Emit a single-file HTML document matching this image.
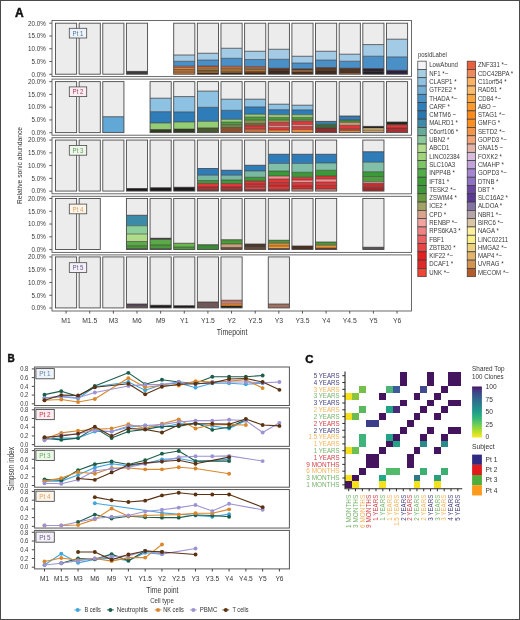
<!DOCTYPE html>
<html><head><meta charset="utf-8"><style>
html,body{margin:0;padding:0;background:#fff;overflow:hidden;width:520px;height:620px;}
svg{display:block;will-change:transform;}
text{font-family:"Liberation Sans", sans-serif;}
</style></head><body>
<svg width="520" height="620" viewBox="0 0 520 620">
<rect x="0" y="0" width="520" height="620" fill="#fff"/>
<rect x="0.50" y="0.50" width="519.00" height="619.00" fill="none" stroke="#4a4a4a" stroke-width="1" />
<text x="15.10" y="16.60" font-size="12.0" fill="#111" text-anchor="start" font-weight="bold" stroke="#111" stroke-width="0.45">A</text>
<text transform="translate(22.3,165.5) rotate(-90)" font-size="7.8" fill="#333" text-anchor="middle" textLength="77" lengthAdjust="spacingAndGlyphs">Relative sonic abundance</text>
<line x1="49.30" y1="23.20" x2="52.00" y2="23.20" stroke="#444" stroke-width="0.9"/>
<text x="45.90" y="25.50" font-size="6.6" fill="#3a3a3a" text-anchor="end" font-weight="normal" textLength="17.78" lengthAdjust="spacingAndGlyphs" >20.0%</text>
<line x1="49.30" y1="35.98" x2="52.00" y2="35.98" stroke="#444" stroke-width="0.9"/>
<text x="45.90" y="38.27" font-size="6.6" fill="#3a3a3a" text-anchor="end" font-weight="normal" textLength="17.78" lengthAdjust="spacingAndGlyphs" >15.0%</text>
<line x1="49.30" y1="48.75" x2="52.00" y2="48.75" stroke="#444" stroke-width="0.9"/>
<text x="45.90" y="51.05" font-size="6.6" fill="#3a3a3a" text-anchor="end" font-weight="normal" textLength="17.78" lengthAdjust="spacingAndGlyphs" >10.0%</text>
<line x1="49.30" y1="61.53" x2="52.00" y2="61.53" stroke="#444" stroke-width="0.9"/>
<text x="45.90" y="63.83" font-size="6.6" fill="#3a3a3a" text-anchor="end" font-weight="normal" textLength="14.29" lengthAdjust="spacingAndGlyphs" >5.0%</text>
<line x1="49.30" y1="74.30" x2="52.00" y2="74.30" stroke="#444" stroke-width="0.9"/>
<text x="45.90" y="76.60" font-size="6.6" fill="#3a3a3a" text-anchor="end" font-weight="normal" textLength="14.29" lengthAdjust="spacingAndGlyphs" >0.0%</text>
<rect x="52.00" y="20.50" width="359.50" height="56.10" fill="#fff" stroke="#5a5a5a" stroke-width="0.9" />
<rect x="55.50" y="23.20" width="21.15" height="51.00" fill="#ececec" stroke="none" stroke-width="1" />
<rect x="55.50" y="23.20" width="21.15" height="51.00" fill="none" stroke="#4a4a4a" stroke-width="0.9" />
<rect x="79.14" y="23.20" width="21.15" height="51.00" fill="#ececec" stroke="none" stroke-width="1" />
<rect x="79.14" y="23.20" width="21.15" height="51.00" fill="none" stroke="#4a4a4a" stroke-width="0.9" />
<rect x="102.78" y="23.20" width="21.15" height="51.00" fill="#ececec" stroke="none" stroke-width="1" />
<rect x="102.78" y="23.20" width="21.15" height="51.00" fill="none" stroke="#4a4a4a" stroke-width="0.9" />
<rect x="126.42" y="23.20" width="21.15" height="51.00" fill="#ececec" stroke="none" stroke-width="1" />
<rect x="126.42" y="71.40" width="21.15" height="2.80" fill="#3c3c3c" stroke="none" stroke-width="1" />
<line x1="126.42" y1="71.40" x2="147.57" y2="71.40" stroke="#3a3030" stroke-width="0.7"/>
<rect x="126.42" y="23.20" width="21.15" height="51.00" fill="none" stroke="#4a4a4a" stroke-width="0.9" />
<rect x="173.70" y="23.20" width="21.15" height="51.00" fill="#ececec" stroke="none" stroke-width="1" />
<rect x="173.70" y="55.00" width="21.15" height="6.25" fill="#a3cbe5" stroke="none" stroke-width="1" />
<line x1="173.70" y1="55.00" x2="194.85" y2="55.00" stroke="#3a3030" stroke-width="0.7"/>
<rect x="173.70" y="61.25" width="21.15" height="4.95" fill="#4a8fc6" stroke="none" stroke-width="1" />
<line x1="173.70" y1="61.25" x2="194.85" y2="61.25" stroke="#3a3030" stroke-width="0.55"/>
<rect x="173.70" y="66.20" width="21.15" height="1.40" fill="#e4603a" stroke="none" stroke-width="1" />
<line x1="173.70" y1="66.20" x2="194.85" y2="66.20" stroke="#3a3030" stroke-width="0.55"/>
<rect x="173.70" y="67.60" width="21.15" height="1.90" fill="#e8862a" stroke="none" stroke-width="1" />
<line x1="173.70" y1="67.60" x2="194.85" y2="67.60" stroke="#3a3030" stroke-width="0.55"/>
<rect x="173.70" y="69.50" width="21.15" height="0.60" fill="#f4a848" stroke="none" stroke-width="1" />
<line x1="173.70" y1="69.50" x2="194.85" y2="69.50" stroke="#3a3030" stroke-width="0.55"/>
<rect x="173.70" y="70.10" width="21.15" height="1.60" fill="#e8862a" stroke="none" stroke-width="1" />
<line x1="173.70" y1="70.10" x2="194.85" y2="70.10" stroke="#3a3030" stroke-width="0.55"/>
<rect x="173.70" y="71.70" width="21.15" height="0.60" fill="#f4a848" stroke="none" stroke-width="1" />
<line x1="173.70" y1="71.70" x2="194.85" y2="71.70" stroke="#3a3030" stroke-width="0.55"/>
<rect x="173.70" y="72.30" width="21.15" height="1.90" fill="#d07a30" stroke="none" stroke-width="1" />
<line x1="173.70" y1="72.30" x2="194.85" y2="72.30" stroke="#3a3030" stroke-width="0.55"/>
<rect x="173.70" y="23.20" width="21.15" height="51.00" fill="none" stroke="#4a4a4a" stroke-width="0.9" />
<rect x="197.34" y="23.20" width="21.15" height="51.00" fill="#ececec" stroke="none" stroke-width="1" />
<rect x="197.34" y="53.25" width="21.15" height="6.75" fill="#a3cbe5" stroke="none" stroke-width="1" />
<line x1="197.34" y1="53.25" x2="218.49" y2="53.25" stroke="#3a3030" stroke-width="0.7"/>
<rect x="197.34" y="60.00" width="21.15" height="6.00" fill="#4a8fc6" stroke="none" stroke-width="1" />
<line x1="197.34" y1="60.00" x2="218.49" y2="60.00" stroke="#3a3030" stroke-width="0.55"/>
<rect x="197.34" y="66.00" width="21.15" height="1.10" fill="#e4603a" stroke="none" stroke-width="1" />
<line x1="197.34" y1="66.00" x2="218.49" y2="66.00" stroke="#3a3030" stroke-width="0.55"/>
<rect x="197.34" y="67.10" width="21.15" height="1.40" fill="#e8862a" stroke="none" stroke-width="1" />
<line x1="197.34" y1="67.10" x2="218.49" y2="67.10" stroke="#3a3030" stroke-width="0.55"/>
<rect x="197.34" y="68.50" width="21.15" height="1.30" fill="#f4a848" stroke="none" stroke-width="1" />
<line x1="197.34" y1="68.50" x2="218.49" y2="68.50" stroke="#3a3030" stroke-width="0.55"/>
<rect x="197.34" y="69.80" width="21.15" height="1.90" fill="#7a5414" stroke="none" stroke-width="1" />
<line x1="197.34" y1="69.80" x2="218.49" y2="69.80" stroke="#3a3030" stroke-width="0.55"/>
<rect x="197.34" y="71.70" width="21.15" height="1.30" fill="#c08030" stroke="none" stroke-width="1" />
<line x1="197.34" y1="71.70" x2="218.49" y2="71.70" stroke="#3a3030" stroke-width="0.55"/>
<rect x="197.34" y="73.00" width="21.15" height="1.20" fill="#3a1a10" stroke="none" stroke-width="1" />
<line x1="197.34" y1="73.00" x2="218.49" y2="73.00" stroke="#3a3030" stroke-width="0.55"/>
<rect x="197.34" y="23.20" width="21.15" height="51.00" fill="none" stroke="#4a4a4a" stroke-width="0.9" />
<rect x="220.98" y="23.20" width="21.15" height="51.00" fill="#ececec" stroke="none" stroke-width="1" />
<rect x="220.98" y="48.25" width="21.15" height="10.00" fill="#a3cbe5" stroke="none" stroke-width="1" />
<line x1="220.98" y1="48.25" x2="242.13" y2="48.25" stroke="#3a3030" stroke-width="0.7"/>
<rect x="220.98" y="58.25" width="21.15" height="8.05" fill="#4a8fc6" stroke="none" stroke-width="1" />
<line x1="220.98" y1="58.25" x2="242.13" y2="58.25" stroke="#3a3030" stroke-width="0.55"/>
<rect x="220.98" y="66.30" width="21.15" height="2.00" fill="#c87040" stroke="none" stroke-width="1" />
<line x1="220.98" y1="66.30" x2="242.13" y2="66.30" stroke="#3a3030" stroke-width="0.55"/>
<rect x="220.98" y="68.30" width="21.15" height="0.70" fill="#f4a848" stroke="none" stroke-width="1" />
<line x1="220.98" y1="68.30" x2="242.13" y2="68.30" stroke="#3a3030" stroke-width="0.55"/>
<rect x="220.98" y="69.00" width="21.15" height="2.00" fill="#d08030" stroke="none" stroke-width="1" />
<line x1="220.98" y1="69.00" x2="242.13" y2="69.00" stroke="#3a3030" stroke-width="0.55"/>
<rect x="220.98" y="71.00" width="21.15" height="1.80" fill="#a07030" stroke="none" stroke-width="1" />
<line x1="220.98" y1="71.00" x2="242.13" y2="71.00" stroke="#3a3030" stroke-width="0.55"/>
<rect x="220.98" y="72.80" width="21.15" height="1.40" fill="#2a1a10" stroke="none" stroke-width="1" />
<line x1="220.98" y1="72.80" x2="242.13" y2="72.80" stroke="#3a3030" stroke-width="0.55"/>
<rect x="220.98" y="23.20" width="21.15" height="51.00" fill="none" stroke="#4a4a4a" stroke-width="0.9" />
<rect x="244.62" y="23.20" width="21.15" height="51.00" fill="#ececec" stroke="none" stroke-width="1" />
<rect x="244.62" y="51.25" width="21.15" height="8.25" fill="#a3cbe5" stroke="none" stroke-width="1" />
<line x1="244.62" y1="51.25" x2="265.77" y2="51.25" stroke="#3a3030" stroke-width="0.7"/>
<rect x="244.62" y="59.50" width="21.15" height="7.10" fill="#4a8fc6" stroke="none" stroke-width="1" />
<line x1="244.62" y1="59.50" x2="265.77" y2="59.50" stroke="#3a3030" stroke-width="0.55"/>
<rect x="244.62" y="66.60" width="21.15" height="2.20" fill="#a86040" stroke="none" stroke-width="1" />
<line x1="244.62" y1="66.60" x2="265.77" y2="66.60" stroke="#3a3030" stroke-width="0.55"/>
<rect x="244.62" y="68.80" width="21.15" height="0.70" fill="#f4a848" stroke="none" stroke-width="1" />
<line x1="244.62" y1="68.80" x2="265.77" y2="68.80" stroke="#3a3030" stroke-width="0.55"/>
<rect x="244.62" y="69.50" width="21.15" height="2.00" fill="#b87424" stroke="none" stroke-width="1" />
<line x1="244.62" y1="69.50" x2="265.77" y2="69.50" stroke="#3a3030" stroke-width="0.55"/>
<rect x="244.62" y="71.50" width="21.15" height="1.50" fill="#804010" stroke="none" stroke-width="1" />
<line x1="244.62" y1="71.50" x2="265.77" y2="71.50" stroke="#3a3030" stroke-width="0.55"/>
<rect x="244.62" y="73.00" width="21.15" height="1.20" fill="#2a1a10" stroke="none" stroke-width="1" />
<line x1="244.62" y1="73.00" x2="265.77" y2="73.00" stroke="#3a3030" stroke-width="0.55"/>
<rect x="244.62" y="23.20" width="21.15" height="51.00" fill="none" stroke="#4a4a4a" stroke-width="0.9" />
<rect x="268.26" y="23.20" width="21.15" height="51.00" fill="#ececec" stroke="none" stroke-width="1" />
<rect x="268.26" y="49.25" width="21.15" height="10.00" fill="#a3cbe5" stroke="none" stroke-width="1" />
<line x1="268.26" y1="49.25" x2="289.41" y2="49.25" stroke="#3a3030" stroke-width="0.7"/>
<rect x="268.26" y="59.25" width="21.15" height="9.00" fill="#4a8fc6" stroke="none" stroke-width="1" />
<line x1="268.26" y1="59.25" x2="289.41" y2="59.25" stroke="#3a3030" stroke-width="0.55"/>
<rect x="268.26" y="68.25" width="21.15" height="2.65" fill="#5a3020" stroke="none" stroke-width="1" />
<line x1="268.26" y1="68.25" x2="289.41" y2="68.25" stroke="#3a3030" stroke-width="0.55"/>
<rect x="268.26" y="70.90" width="21.15" height="3.30" fill="#3a2a20" stroke="none" stroke-width="1" />
<line x1="268.26" y1="70.90" x2="289.41" y2="70.90" stroke="#3a3030" stroke-width="0.55"/>
<rect x="268.26" y="23.20" width="21.15" height="51.00" fill="none" stroke="#4a4a4a" stroke-width="0.9" />
<rect x="291.90" y="23.20" width="21.15" height="51.00" fill="#ececec" stroke="none" stroke-width="1" />
<rect x="291.90" y="56.25" width="21.15" height="6.75" fill="#a3cbe5" stroke="none" stroke-width="1" />
<line x1="291.90" y1="56.25" x2="313.05" y2="56.25" stroke="#3a3030" stroke-width="0.7"/>
<rect x="291.90" y="63.00" width="21.15" height="5.75" fill="#4a8fc6" stroke="none" stroke-width="1" />
<line x1="291.90" y1="63.00" x2="313.05" y2="63.00" stroke="#3a3030" stroke-width="0.55"/>
<rect x="291.90" y="68.75" width="21.15" height="1.65" fill="#5a3a20" stroke="none" stroke-width="1" />
<line x1="291.90" y1="68.75" x2="313.05" y2="68.75" stroke="#3a3030" stroke-width="0.55"/>
<rect x="291.90" y="70.40" width="21.15" height="1.30" fill="#e8862a" stroke="none" stroke-width="1" />
<line x1="291.90" y1="70.40" x2="313.05" y2="70.40" stroke="#3a3030" stroke-width="0.55"/>
<rect x="291.90" y="71.70" width="21.15" height="2.50" fill="#4a2e1c" stroke="none" stroke-width="1" />
<line x1="291.90" y1="71.70" x2="313.05" y2="71.70" stroke="#3a3030" stroke-width="0.55"/>
<rect x="291.90" y="23.20" width="21.15" height="51.00" fill="none" stroke="#4a4a4a" stroke-width="0.9" />
<rect x="315.54" y="23.20" width="21.15" height="51.00" fill="#ececec" stroke="none" stroke-width="1" />
<rect x="315.54" y="51.25" width="21.15" height="8.75" fill="#a3cbe5" stroke="none" stroke-width="1" />
<line x1="315.54" y1="51.25" x2="336.69" y2="51.25" stroke="#3a3030" stroke-width="0.7"/>
<rect x="315.54" y="60.00" width="21.15" height="7.50" fill="#4a8fc6" stroke="none" stroke-width="1" />
<line x1="315.54" y1="60.00" x2="336.69" y2="60.00" stroke="#3a3030" stroke-width="0.55"/>
<rect x="315.54" y="67.50" width="21.15" height="3.40" fill="#5a3a22" stroke="none" stroke-width="1" />
<line x1="315.54" y1="67.50" x2="336.69" y2="67.50" stroke="#3a3030" stroke-width="0.55"/>
<rect x="315.54" y="70.90" width="21.15" height="3.30" fill="#3e2a1e" stroke="none" stroke-width="1" />
<line x1="315.54" y1="70.90" x2="336.69" y2="70.90" stroke="#3a3030" stroke-width="0.55"/>
<rect x="315.54" y="23.20" width="21.15" height="51.00" fill="none" stroke="#4a4a4a" stroke-width="0.9" />
<rect x="339.18" y="23.20" width="21.15" height="51.00" fill="#ececec" stroke="none" stroke-width="1" />
<rect x="339.18" y="54.20" width="21.15" height="7.00" fill="#a3cbe5" stroke="none" stroke-width="1" />
<line x1="339.18" y1="54.20" x2="360.33" y2="54.20" stroke="#3a3030" stroke-width="0.7"/>
<rect x="339.18" y="61.20" width="21.15" height="7.00" fill="#4a8fc6" stroke="none" stroke-width="1" />
<line x1="339.18" y1="61.20" x2="360.33" y2="61.20" stroke="#3a3030" stroke-width="0.55"/>
<rect x="339.18" y="68.20" width="21.15" height="5.00" fill="#4e3424" stroke="none" stroke-width="1" />
<line x1="339.18" y1="68.20" x2="360.33" y2="68.20" stroke="#3a3030" stroke-width="0.55"/>
<rect x="339.18" y="73.20" width="21.15" height="1.00" fill="#b86a2a" stroke="none" stroke-width="1" />
<line x1="339.18" y1="73.20" x2="360.33" y2="73.20" stroke="#3a3030" stroke-width="0.55"/>
<rect x="339.18" y="23.20" width="21.15" height="51.00" fill="none" stroke="#4a4a4a" stroke-width="0.9" />
<rect x="362.82" y="23.20" width="21.15" height="51.00" fill="#ececec" stroke="none" stroke-width="1" />
<rect x="362.82" y="44.60" width="21.15" height="11.60" fill="#a3cbe5" stroke="none" stroke-width="1" />
<line x1="362.82" y1="44.60" x2="383.97" y2="44.60" stroke="#3a3030" stroke-width="0.7"/>
<rect x="362.82" y="56.20" width="21.15" height="12.30" fill="#4a8fc6" stroke="none" stroke-width="1" />
<line x1="362.82" y1="56.20" x2="383.97" y2="56.20" stroke="#3a3030" stroke-width="0.55"/>
<rect x="362.82" y="68.50" width="21.15" height="3.40" fill="#2a2430" stroke="none" stroke-width="1" />
<line x1="362.82" y1="68.50" x2="383.97" y2="68.50" stroke="#3a3030" stroke-width="0.55"/>
<rect x="362.82" y="71.90" width="21.15" height="2.30" fill="#1e1a24" stroke="none" stroke-width="1" />
<line x1="362.82" y1="71.90" x2="383.97" y2="71.90" stroke="#3a3030" stroke-width="0.55"/>
<rect x="362.82" y="23.20" width="21.15" height="51.00" fill="none" stroke="#4a4a4a" stroke-width="0.9" />
<rect x="386.46" y="23.20" width="21.15" height="51.00" fill="#ececec" stroke="none" stroke-width="1" />
<rect x="386.46" y="39.20" width="21.15" height="17.70" fill="#a3cbe5" stroke="none" stroke-width="1" />
<line x1="386.46" y1="39.20" x2="407.61" y2="39.20" stroke="#3a3030" stroke-width="0.7"/>
<rect x="386.46" y="56.90" width="21.15" height="13.40" fill="#4a8fc6" stroke="none" stroke-width="1" />
<line x1="386.46" y1="56.90" x2="407.61" y2="56.90" stroke="#3a3030" stroke-width="0.55"/>
<rect x="386.46" y="70.30" width="21.15" height="3.90" fill="#2a2040" stroke="none" stroke-width="1" />
<line x1="386.46" y1="70.30" x2="407.61" y2="70.30" stroke="#3a3030" stroke-width="0.55"/>
<rect x="386.46" y="23.20" width="21.15" height="51.00" fill="none" stroke="#4a4a4a" stroke-width="0.9" />
<rect x="69.30" y="28.30" width="17.40" height="9.70" fill="#eef3f9" stroke="#4a4a4a" stroke-width="0.8" />
<text x="78.00" y="35.70" font-size="6.9" fill="#4f73a0" text-anchor="middle" font-weight="normal" textLength="10.8" lengthAdjust="spacingAndGlyphs" >Pt 1</text>
<line x1="49.30" y1="81.63" x2="52.00" y2="81.63" stroke="#444" stroke-width="0.9"/>
<text x="45.90" y="83.93" font-size="6.6" fill="#3a3a3a" text-anchor="end" font-weight="normal" textLength="17.78" lengthAdjust="spacingAndGlyphs" >20.0%</text>
<line x1="49.30" y1="94.41" x2="52.00" y2="94.41" stroke="#444" stroke-width="0.9"/>
<text x="45.90" y="96.70" font-size="6.6" fill="#3a3a3a" text-anchor="end" font-weight="normal" textLength="17.78" lengthAdjust="spacingAndGlyphs" >15.0%</text>
<line x1="49.30" y1="107.18" x2="52.00" y2="107.18" stroke="#444" stroke-width="0.9"/>
<text x="45.90" y="109.48" font-size="6.6" fill="#3a3a3a" text-anchor="end" font-weight="normal" textLength="17.78" lengthAdjust="spacingAndGlyphs" >10.0%</text>
<line x1="49.30" y1="119.95" x2="52.00" y2="119.95" stroke="#444" stroke-width="0.9"/>
<text x="45.90" y="122.25" font-size="6.6" fill="#3a3a3a" text-anchor="end" font-weight="normal" textLength="14.29" lengthAdjust="spacingAndGlyphs" >5.0%</text>
<line x1="49.30" y1="132.73" x2="52.00" y2="132.73" stroke="#444" stroke-width="0.9"/>
<text x="45.90" y="135.03" font-size="6.6" fill="#3a3a3a" text-anchor="end" font-weight="normal" textLength="14.29" lengthAdjust="spacingAndGlyphs" >0.0%</text>
<rect x="52.00" y="79.10" width="359.50" height="56.10" fill="#fff" stroke="#5a5a5a" stroke-width="0.9" />
<rect x="55.50" y="81.63" width="21.15" height="51.00" fill="#ececec" stroke="none" stroke-width="1" />
<rect x="55.50" y="81.63" width="21.15" height="51.00" fill="none" stroke="#4a4a4a" stroke-width="0.9" />
<rect x="79.14" y="81.63" width="21.15" height="51.00" fill="#ececec" stroke="none" stroke-width="1" />
<rect x="79.14" y="81.63" width="21.15" height="51.00" fill="none" stroke="#4a4a4a" stroke-width="0.9" />
<rect x="102.78" y="81.63" width="21.15" height="51.00" fill="#ececec" stroke="none" stroke-width="1" />
<rect x="102.78" y="116.75" width="21.15" height="15.88" fill="#62a8d6" stroke="none" stroke-width="1" />
<line x1="102.78" y1="116.75" x2="123.93" y2="116.75" stroke="#3a3030" stroke-width="0.7"/>
<rect x="102.78" y="81.63" width="21.15" height="51.00" fill="none" stroke="#4a4a4a" stroke-width="0.9" />
<rect x="150.06" y="81.63" width="21.15" height="51.00" fill="#ececec" stroke="none" stroke-width="1" />
<rect x="150.06" y="98.20" width="21.15" height="13.50" fill="#8ec2e2" stroke="none" stroke-width="1" />
<line x1="150.06" y1="98.20" x2="171.21" y2="98.20" stroke="#3a3030" stroke-width="0.7"/>
<rect x="150.06" y="111.70" width="21.15" height="11.30" fill="#2f7db8" stroke="none" stroke-width="1" />
<line x1="150.06" y1="111.70" x2="171.21" y2="111.70" stroke="#3a3030" stroke-width="0.55"/>
<rect x="150.06" y="123.00" width="21.15" height="6.50" fill="#94cd74" stroke="none" stroke-width="1" />
<line x1="150.06" y1="123.00" x2="171.21" y2="123.00" stroke="#3a3030" stroke-width="0.55"/>
<rect x="150.06" y="129.50" width="21.15" height="3.13" fill="#2e3a22" stroke="none" stroke-width="1" />
<line x1="150.06" y1="129.50" x2="171.21" y2="129.50" stroke="#3a3030" stroke-width="0.55"/>
<rect x="150.06" y="81.63" width="21.15" height="51.00" fill="none" stroke="#4a4a4a" stroke-width="0.9" />
<rect x="173.70" y="81.63" width="21.15" height="51.00" fill="#ececec" stroke="none" stroke-width="1" />
<rect x="173.70" y="96.60" width="21.15" height="15.30" fill="#8ec2e2" stroke="none" stroke-width="1" />
<line x1="173.70" y1="96.60" x2="194.85" y2="96.60" stroke="#3a3030" stroke-width="0.7"/>
<rect x="173.70" y="111.90" width="21.15" height="10.10" fill="#2f7db8" stroke="none" stroke-width="1" />
<line x1="173.70" y1="111.90" x2="194.85" y2="111.90" stroke="#3a3030" stroke-width="0.55"/>
<rect x="173.70" y="122.00" width="21.15" height="7.00" fill="#94cd74" stroke="none" stroke-width="1" />
<line x1="173.70" y1="122.00" x2="194.85" y2="122.00" stroke="#3a3030" stroke-width="0.55"/>
<rect x="173.70" y="129.00" width="21.15" height="3.63" fill="#2e3a22" stroke="none" stroke-width="1" />
<line x1="173.70" y1="129.00" x2="194.85" y2="129.00" stroke="#3a3030" stroke-width="0.55"/>
<rect x="173.70" y="81.63" width="21.15" height="51.00" fill="none" stroke="#4a4a4a" stroke-width="0.9" />
<rect x="197.34" y="81.63" width="21.15" height="51.00" fill="#ececec" stroke="none" stroke-width="1" />
<rect x="197.34" y="91.10" width="21.15" height="16.20" fill="#8ec2e2" stroke="none" stroke-width="1" />
<line x1="197.34" y1="91.10" x2="218.49" y2="91.10" stroke="#3a3030" stroke-width="0.7"/>
<rect x="197.34" y="107.30" width="21.15" height="14.10" fill="#2f7db8" stroke="none" stroke-width="1" />
<line x1="197.34" y1="107.30" x2="218.49" y2="107.30" stroke="#3a3030" stroke-width="0.55"/>
<rect x="197.34" y="121.40" width="21.15" height="6.50" fill="#94cd74" stroke="none" stroke-width="1" />
<line x1="197.34" y1="121.40" x2="218.49" y2="121.40" stroke="#3a3030" stroke-width="0.55"/>
<rect x="197.34" y="127.90" width="21.15" height="4.73" fill="#4a5a30" stroke="none" stroke-width="1" />
<line x1="197.34" y1="127.90" x2="218.49" y2="127.90" stroke="#3a3030" stroke-width="0.55"/>
<rect x="197.34" y="81.63" width="21.15" height="51.00" fill="none" stroke="#4a4a4a" stroke-width="0.9" />
<rect x="220.98" y="81.63" width="21.15" height="51.00" fill="#ececec" stroke="none" stroke-width="1" />
<rect x="220.98" y="99.20" width="21.15" height="11.10" fill="#8ec2e2" stroke="none" stroke-width="1" />
<line x1="220.98" y1="99.20" x2="242.13" y2="99.20" stroke="#3a3030" stroke-width="0.7"/>
<rect x="220.98" y="110.30" width="21.15" height="9.10" fill="#2f7db8" stroke="none" stroke-width="1" />
<line x1="220.98" y1="110.30" x2="242.13" y2="110.30" stroke="#3a3030" stroke-width="0.55"/>
<rect x="220.98" y="119.40" width="21.15" height="2.70" fill="#94cd74" stroke="none" stroke-width="1" />
<line x1="220.98" y1="119.40" x2="242.13" y2="119.40" stroke="#3a3030" stroke-width="0.55"/>
<rect x="220.98" y="122.10" width="21.15" height="2.50" fill="#4a9e40" stroke="none" stroke-width="1" />
<line x1="220.98" y1="122.10" x2="242.13" y2="122.10" stroke="#3a3030" stroke-width="0.55"/>
<rect x="220.98" y="124.60" width="21.15" height="2.90" fill="#6a8a40" stroke="none" stroke-width="1" />
<line x1="220.98" y1="124.60" x2="242.13" y2="124.60" stroke="#3a3030" stroke-width="0.55"/>
<rect x="220.98" y="127.50" width="21.15" height="5.13" fill="#8a5030" stroke="none" stroke-width="1" />
<line x1="220.98" y1="127.50" x2="242.13" y2="127.50" stroke="#3a3030" stroke-width="0.55"/>
<rect x="220.98" y="81.63" width="21.15" height="51.00" fill="none" stroke="#4a4a4a" stroke-width="0.9" />
<rect x="244.62" y="81.63" width="21.15" height="51.00" fill="#ececec" stroke="none" stroke-width="1" />
<rect x="244.62" y="99.20" width="21.15" height="7.70" fill="#8ec2e2" stroke="none" stroke-width="1" />
<line x1="244.62" y1="99.20" x2="265.77" y2="99.20" stroke="#3a3030" stroke-width="0.7"/>
<rect x="244.62" y="106.90" width="21.15" height="7.40" fill="#2f7db8" stroke="none" stroke-width="1" />
<line x1="244.62" y1="106.90" x2="265.77" y2="106.90" stroke="#3a3030" stroke-width="0.55"/>
<rect x="244.62" y="114.30" width="21.15" height="2.80" fill="#94cd74" stroke="none" stroke-width="1" />
<line x1="244.62" y1="114.30" x2="265.77" y2="114.30" stroke="#3a3030" stroke-width="0.55"/>
<rect x="244.62" y="117.10" width="21.15" height="3.00" fill="#4a9e40" stroke="none" stroke-width="1" />
<line x1="244.62" y1="117.10" x2="265.77" y2="117.10" stroke="#3a3030" stroke-width="0.55"/>
<rect x="244.62" y="120.10" width="21.15" height="3.30" fill="#7a9a50" stroke="none" stroke-width="1" />
<line x1="244.62" y1="120.10" x2="265.77" y2="120.10" stroke="#3a3030" stroke-width="0.55"/>
<rect x="244.62" y="123.40" width="21.15" height="2.70" fill="#8a5a3a" stroke="none" stroke-width="1" />
<line x1="244.62" y1="123.40" x2="265.77" y2="123.40" stroke="#3a3030" stroke-width="0.55"/>
<rect x="244.62" y="126.10" width="21.15" height="3.00" fill="#e0383a" stroke="none" stroke-width="1" />
<line x1="244.62" y1="126.10" x2="265.77" y2="126.10" stroke="#3a3030" stroke-width="0.55"/>
<rect x="244.62" y="129.10" width="21.15" height="3.53" fill="#c07040" stroke="none" stroke-width="1" />
<line x1="244.62" y1="129.10" x2="265.77" y2="129.10" stroke="#3a3030" stroke-width="0.55"/>
<rect x="244.62" y="81.63" width="21.15" height="51.00" fill="none" stroke="#4a4a4a" stroke-width="0.9" />
<rect x="268.26" y="81.63" width="21.15" height="51.00" fill="#ececec" stroke="none" stroke-width="1" />
<rect x="268.26" y="104.20" width="21.15" height="5.50" fill="#8ec2e2" stroke="none" stroke-width="1" />
<line x1="268.26" y1="104.20" x2="289.41" y2="104.20" stroke="#3a3030" stroke-width="0.7"/>
<rect x="268.26" y="109.70" width="21.15" height="5.00" fill="#2f7db8" stroke="none" stroke-width="1" />
<line x1="268.26" y1="109.70" x2="289.41" y2="109.70" stroke="#3a3030" stroke-width="0.55"/>
<rect x="268.26" y="114.70" width="21.15" height="2.90" fill="#94cd74" stroke="none" stroke-width="1" />
<line x1="268.26" y1="114.70" x2="289.41" y2="114.70" stroke="#3a3030" stroke-width="0.55"/>
<rect x="268.26" y="117.60" width="21.15" height="2.50" fill="#4a9e40" stroke="none" stroke-width="1" />
<line x1="268.26" y1="117.60" x2="289.41" y2="117.60" stroke="#3a3030" stroke-width="0.55"/>
<rect x="268.26" y="120.10" width="21.15" height="2.30" fill="#9a9a50" stroke="none" stroke-width="1" />
<line x1="268.26" y1="120.10" x2="289.41" y2="120.10" stroke="#3a3030" stroke-width="0.55"/>
<rect x="268.26" y="122.40" width="21.15" height="3.20" fill="#e0383a" stroke="none" stroke-width="1" />
<line x1="268.26" y1="122.40" x2="289.41" y2="122.40" stroke="#3a3030" stroke-width="0.55"/>
<rect x="268.26" y="125.60" width="21.15" height="2.00" fill="#f09090" stroke="none" stroke-width="1" />
<line x1="268.26" y1="125.60" x2="289.41" y2="125.60" stroke="#3a3030" stroke-width="0.55"/>
<rect x="268.26" y="127.60" width="21.15" height="2.50" fill="#e0383a" stroke="none" stroke-width="1" />
<line x1="268.26" y1="127.60" x2="289.41" y2="127.60" stroke="#3a3030" stroke-width="0.55"/>
<rect x="268.26" y="130.10" width="21.15" height="2.53" fill="#e89040" stroke="none" stroke-width="1" />
<line x1="268.26" y1="130.10" x2="289.41" y2="130.10" stroke="#3a3030" stroke-width="0.55"/>
<rect x="268.26" y="81.63" width="21.15" height="51.00" fill="none" stroke="#4a4a4a" stroke-width="0.9" />
<rect x="291.90" y="81.63" width="21.15" height="51.00" fill="#ececec" stroke="none" stroke-width="1" />
<rect x="291.90" y="105.20" width="21.15" height="4.70" fill="#8ec2e2" stroke="none" stroke-width="1" />
<line x1="291.90" y1="105.20" x2="313.05" y2="105.20" stroke="#3a3030" stroke-width="0.7"/>
<rect x="291.90" y="109.90" width="21.15" height="4.80" fill="#2f7db8" stroke="none" stroke-width="1" />
<line x1="291.90" y1="109.90" x2="313.05" y2="109.90" stroke="#3a3030" stroke-width="0.55"/>
<rect x="291.90" y="114.70" width="21.15" height="2.90" fill="#94cd74" stroke="none" stroke-width="1" />
<line x1="291.90" y1="114.70" x2="313.05" y2="114.70" stroke="#3a3030" stroke-width="0.55"/>
<rect x="291.90" y="117.60" width="21.15" height="2.50" fill="#4a9e40" stroke="none" stroke-width="1" />
<line x1="291.90" y1="117.60" x2="313.05" y2="117.60" stroke="#3a3030" stroke-width="0.55"/>
<rect x="291.90" y="120.10" width="21.15" height="1.30" fill="#9a9a50" stroke="none" stroke-width="1" />
<line x1="291.90" y1="120.10" x2="313.05" y2="120.10" stroke="#3a3030" stroke-width="0.55"/>
<rect x="291.90" y="121.40" width="21.15" height="3.20" fill="#e0383a" stroke="none" stroke-width="1" />
<line x1="291.90" y1="121.40" x2="313.05" y2="121.40" stroke="#3a3030" stroke-width="0.55"/>
<rect x="291.90" y="124.60" width="21.15" height="2.00" fill="#f09090" stroke="none" stroke-width="1" />
<line x1="291.90" y1="124.60" x2="313.05" y2="124.60" stroke="#3a3030" stroke-width="0.55"/>
<rect x="291.90" y="126.60" width="21.15" height="3.00" fill="#e0383a" stroke="none" stroke-width="1" />
<line x1="291.90" y1="126.60" x2="313.05" y2="126.60" stroke="#3a3030" stroke-width="0.55"/>
<rect x="291.90" y="129.60" width="21.15" height="3.03" fill="#e89040" stroke="none" stroke-width="1" />
<line x1="291.90" y1="129.60" x2="313.05" y2="129.60" stroke="#3a3030" stroke-width="0.55"/>
<rect x="291.90" y="81.63" width="21.15" height="51.00" fill="none" stroke="#4a4a4a" stroke-width="0.9" />
<rect x="315.54" y="81.63" width="21.15" height="51.00" fill="#ececec" stroke="none" stroke-width="1" />
<rect x="315.54" y="121.40" width="21.15" height="3.00" fill="#3a80a8" stroke="none" stroke-width="1" />
<line x1="315.54" y1="121.40" x2="336.69" y2="121.40" stroke="#3a3030" stroke-width="0.7"/>
<rect x="315.54" y="124.40" width="21.15" height="3.50" fill="#3a6a3a" stroke="none" stroke-width="1" />
<line x1="315.54" y1="124.40" x2="336.69" y2="124.40" stroke="#3a3030" stroke-width="0.55"/>
<rect x="315.54" y="127.90" width="21.15" height="4.73" fill="#8b3030" stroke="none" stroke-width="1" />
<line x1="315.54" y1="127.90" x2="336.69" y2="127.90" stroke="#3a3030" stroke-width="0.55"/>
<rect x="315.54" y="81.63" width="21.15" height="51.00" fill="none" stroke="#4a4a4a" stroke-width="0.9" />
<rect x="339.18" y="81.63" width="21.15" height="51.00" fill="#ececec" stroke="none" stroke-width="1" />
<rect x="339.18" y="116.00" width="21.15" height="4.00" fill="#3a7ab0" stroke="none" stroke-width="1" />
<line x1="339.18" y1="116.00" x2="360.33" y2="116.00" stroke="#3a3030" stroke-width="0.7"/>
<rect x="339.18" y="120.00" width="21.15" height="2.40" fill="#4a8a40" stroke="none" stroke-width="1" />
<line x1="339.18" y1="120.00" x2="360.33" y2="120.00" stroke="#3a3030" stroke-width="0.55"/>
<rect x="339.18" y="122.40" width="21.15" height="3.00" fill="#c89a70" stroke="none" stroke-width="1" />
<line x1="339.18" y1="122.40" x2="360.33" y2="122.40" stroke="#3a3030" stroke-width="0.55"/>
<rect x="339.18" y="125.40" width="21.15" height="3.20" fill="#e0383a" stroke="none" stroke-width="1" />
<line x1="339.18" y1="125.40" x2="360.33" y2="125.40" stroke="#3a3030" stroke-width="0.55"/>
<rect x="339.18" y="128.60" width="21.15" height="2.00" fill="#c04030" stroke="none" stroke-width="1" />
<line x1="339.18" y1="128.60" x2="360.33" y2="128.60" stroke="#3a3030" stroke-width="0.55"/>
<rect x="339.18" y="130.60" width="21.15" height="2.03" fill="#e89040" stroke="none" stroke-width="1" />
<line x1="339.18" y1="130.60" x2="360.33" y2="130.60" stroke="#3a3030" stroke-width="0.55"/>
<rect x="339.18" y="81.63" width="21.15" height="51.00" fill="none" stroke="#4a4a4a" stroke-width="0.9" />
<rect x="362.82" y="81.63" width="21.15" height="51.00" fill="#ececec" stroke="none" stroke-width="1" />
<rect x="362.82" y="126.40" width="21.15" height="1.60" fill="#1e1e1e" stroke="none" stroke-width="1" />
<line x1="362.82" y1="126.40" x2="383.97" y2="126.40" stroke="#3a3030" stroke-width="0.7"/>
<rect x="362.82" y="128.00" width="21.15" height="2.10" fill="#d8c080" stroke="none" stroke-width="1" />
<line x1="362.82" y1="128.00" x2="383.97" y2="128.00" stroke="#3a3030" stroke-width="0.55"/>
<rect x="362.82" y="130.10" width="21.15" height="2.53" fill="#c8a070" stroke="none" stroke-width="1" />
<line x1="362.82" y1="130.10" x2="383.97" y2="130.10" stroke="#3a3030" stroke-width="0.55"/>
<rect x="362.82" y="81.63" width="21.15" height="51.00" fill="none" stroke="#4a4a4a" stroke-width="0.9" />
<rect x="386.46" y="81.63" width="21.15" height="51.00" fill="#ececec" stroke="none" stroke-width="1" />
<rect x="386.46" y="122.00" width="21.15" height="2.80" fill="#1e2a1e" stroke="none" stroke-width="1" />
<line x1="386.46" y1="122.00" x2="407.61" y2="122.00" stroke="#3a3030" stroke-width="0.7"/>
<rect x="386.46" y="124.80" width="21.15" height="3.20" fill="#e0383a" stroke="none" stroke-width="1" />
<line x1="386.46" y1="124.80" x2="407.61" y2="124.80" stroke="#3a3030" stroke-width="0.55"/>
<rect x="386.46" y="128.00" width="21.15" height="4.63" fill="#a83030" stroke="none" stroke-width="1" />
<line x1="386.46" y1="128.00" x2="407.61" y2="128.00" stroke="#3a3030" stroke-width="0.55"/>
<rect x="386.46" y="81.63" width="21.15" height="51.00" fill="none" stroke="#4a4a4a" stroke-width="0.9" />
<rect x="69.30" y="86.90" width="17.40" height="9.70" fill="#fcedf2" stroke="#4a4a4a" stroke-width="0.8" />
<text x="78.00" y="94.30" font-size="6.9" fill="#a83a60" text-anchor="middle" font-weight="normal" textLength="10.8" lengthAdjust="spacingAndGlyphs" >Pt 2</text>
<line x1="49.30" y1="140.06" x2="52.00" y2="140.06" stroke="#444" stroke-width="0.9"/>
<text x="45.90" y="142.36" font-size="6.6" fill="#3a3a3a" text-anchor="end" font-weight="normal" textLength="17.78" lengthAdjust="spacingAndGlyphs" >20.0%</text>
<line x1="49.30" y1="152.84" x2="52.00" y2="152.84" stroke="#444" stroke-width="0.9"/>
<text x="45.90" y="155.14" font-size="6.6" fill="#3a3a3a" text-anchor="end" font-weight="normal" textLength="17.78" lengthAdjust="spacingAndGlyphs" >15.0%</text>
<line x1="49.30" y1="165.61" x2="52.00" y2="165.61" stroke="#444" stroke-width="0.9"/>
<text x="45.90" y="167.91" font-size="6.6" fill="#3a3a3a" text-anchor="end" font-weight="normal" textLength="17.78" lengthAdjust="spacingAndGlyphs" >10.0%</text>
<line x1="49.30" y1="178.38" x2="52.00" y2="178.38" stroke="#444" stroke-width="0.9"/>
<text x="45.90" y="180.69" font-size="6.6" fill="#3a3a3a" text-anchor="end" font-weight="normal" textLength="14.29" lengthAdjust="spacingAndGlyphs" >5.0%</text>
<line x1="49.30" y1="191.16" x2="52.00" y2="191.16" stroke="#444" stroke-width="0.9"/>
<text x="45.90" y="193.46" font-size="6.6" fill="#3a3a3a" text-anchor="end" font-weight="normal" textLength="14.29" lengthAdjust="spacingAndGlyphs" >0.0%</text>
<rect x="52.00" y="137.70" width="359.50" height="56.10" fill="#fff" stroke="#5a5a5a" stroke-width="0.9" />
<rect x="55.50" y="140.06" width="21.15" height="51.00" fill="#ececec" stroke="none" stroke-width="1" />
<rect x="55.50" y="140.06" width="21.15" height="51.00" fill="none" stroke="#4a4a4a" stroke-width="0.9" />
<rect x="79.14" y="140.06" width="21.15" height="51.00" fill="#ececec" stroke="none" stroke-width="1" />
<rect x="79.14" y="140.06" width="21.15" height="51.00" fill="none" stroke="#4a4a4a" stroke-width="0.9" />
<rect x="102.78" y="140.06" width="21.15" height="51.00" fill="#ececec" stroke="none" stroke-width="1" />
<rect x="102.78" y="140.06" width="21.15" height="51.00" fill="none" stroke="#4a4a4a" stroke-width="0.9" />
<rect x="126.42" y="140.06" width="21.15" height="51.00" fill="#ececec" stroke="none" stroke-width="1" />
<rect x="126.42" y="188.50" width="21.15" height="2.56" fill="#1a1a1a" stroke="none" stroke-width="1" />
<line x1="126.42" y1="188.50" x2="147.57" y2="188.50" stroke="#3a3030" stroke-width="0.7"/>
<rect x="126.42" y="140.06" width="21.15" height="51.00" fill="none" stroke="#4a4a4a" stroke-width="0.9" />
<rect x="150.06" y="140.06" width="21.15" height="51.00" fill="#ececec" stroke="none" stroke-width="1" />
<rect x="150.06" y="187.75" width="21.15" height="3.31" fill="#1a1a1a" stroke="none" stroke-width="1" />
<line x1="150.06" y1="187.75" x2="171.21" y2="187.75" stroke="#3a3030" stroke-width="0.7"/>
<rect x="150.06" y="140.06" width="21.15" height="51.00" fill="none" stroke="#4a4a4a" stroke-width="0.9" />
<rect x="173.70" y="140.06" width="21.15" height="51.00" fill="#ececec" stroke="none" stroke-width="1" />
<rect x="173.70" y="187.25" width="21.15" height="3.81" fill="#1a1a1a" stroke="none" stroke-width="1" />
<line x1="173.70" y1="187.25" x2="194.85" y2="187.25" stroke="#3a3030" stroke-width="0.7"/>
<rect x="173.70" y="140.06" width="21.15" height="51.00" fill="none" stroke="#4a4a4a" stroke-width="0.9" />
<rect x="197.34" y="140.06" width="21.15" height="51.00" fill="#ececec" stroke="none" stroke-width="1" />
<rect x="197.34" y="168.50" width="21.15" height="6.75" fill="#2f7db8" stroke="none" stroke-width="1" />
<line x1="197.34" y1="168.50" x2="218.49" y2="168.50" stroke="#3a3030" stroke-width="0.7"/>
<rect x="197.34" y="175.25" width="21.15" height="5.25" fill="#7ab8a0" stroke="none" stroke-width="1" />
<line x1="197.34" y1="175.25" x2="218.49" y2="175.25" stroke="#3a3030" stroke-width="0.55"/>
<rect x="197.34" y="180.50" width="21.15" height="3.00" fill="#3a9a3a" stroke="none" stroke-width="1" />
<line x1="197.34" y1="180.50" x2="218.49" y2="180.50" stroke="#3a3030" stroke-width="0.55"/>
<rect x="197.34" y="183.50" width="21.15" height="3.50" fill="#e0383a" stroke="none" stroke-width="1" />
<line x1="197.34" y1="183.50" x2="218.49" y2="183.50" stroke="#3a3030" stroke-width="0.55"/>
<rect x="197.34" y="187.00" width="21.15" height="2.50" fill="#b83030" stroke="none" stroke-width="1" />
<line x1="197.34" y1="187.00" x2="218.49" y2="187.00" stroke="#3a3030" stroke-width="0.55"/>
<rect x="197.34" y="189.50" width="21.15" height="1.56" fill="#7a3a30" stroke="none" stroke-width="1" />
<line x1="197.34" y1="189.50" x2="218.49" y2="189.50" stroke="#3a3030" stroke-width="0.55"/>
<rect x="197.34" y="140.06" width="21.15" height="51.00" fill="none" stroke="#4a4a4a" stroke-width="0.9" />
<rect x="220.98" y="140.06" width="21.15" height="51.00" fill="#ececec" stroke="none" stroke-width="1" />
<rect x="220.98" y="170.25" width="21.15" height="5.00" fill="#2f7db8" stroke="none" stroke-width="1" />
<line x1="220.98" y1="170.25" x2="242.13" y2="170.25" stroke="#3a3030" stroke-width="0.7"/>
<rect x="220.98" y="175.25" width="21.15" height="4.75" fill="#7ab8a0" stroke="none" stroke-width="1" />
<line x1="220.98" y1="175.25" x2="242.13" y2="175.25" stroke="#3a3030" stroke-width="0.55"/>
<rect x="220.98" y="180.00" width="21.15" height="3.50" fill="#3a9a3a" stroke="none" stroke-width="1" />
<line x1="220.98" y1="180.00" x2="242.13" y2="180.00" stroke="#3a3030" stroke-width="0.55"/>
<rect x="220.98" y="183.50" width="21.15" height="3.50" fill="#e0383a" stroke="none" stroke-width="1" />
<line x1="220.98" y1="183.50" x2="242.13" y2="183.50" stroke="#3a3030" stroke-width="0.55"/>
<rect x="220.98" y="187.00" width="21.15" height="2.50" fill="#b83030" stroke="none" stroke-width="1" />
<line x1="220.98" y1="187.00" x2="242.13" y2="187.00" stroke="#3a3030" stroke-width="0.55"/>
<rect x="220.98" y="189.50" width="21.15" height="1.56" fill="#7a3a30" stroke="none" stroke-width="1" />
<line x1="220.98" y1="189.50" x2="242.13" y2="189.50" stroke="#3a3030" stroke-width="0.55"/>
<rect x="220.98" y="140.06" width="21.15" height="51.00" fill="none" stroke="#4a4a4a" stroke-width="0.9" />
<rect x="244.62" y="140.06" width="21.15" height="51.00" fill="#ececec" stroke="none" stroke-width="1" />
<rect x="244.62" y="165.25" width="21.15" height="5.75" fill="#2f7db8" stroke="none" stroke-width="1" />
<line x1="244.62" y1="165.25" x2="265.77" y2="165.25" stroke="#3a3030" stroke-width="0.7"/>
<rect x="244.62" y="171.00" width="21.15" height="6.25" fill="#7ab8a0" stroke="none" stroke-width="1" />
<line x1="244.62" y1="171.00" x2="265.77" y2="171.00" stroke="#3a3030" stroke-width="0.55"/>
<rect x="244.62" y="177.25" width="21.15" height="3.75" fill="#3a9a3a" stroke="none" stroke-width="1" />
<line x1="244.62" y1="177.25" x2="265.77" y2="177.25" stroke="#3a3030" stroke-width="0.55"/>
<rect x="244.62" y="181.00" width="21.15" height="3.00" fill="#e0383a" stroke="none" stroke-width="1" />
<line x1="244.62" y1="181.00" x2="265.77" y2="181.00" stroke="#3a3030" stroke-width="0.55"/>
<rect x="244.62" y="184.00" width="21.15" height="3.00" fill="#c83a3a" stroke="none" stroke-width="1" />
<line x1="244.62" y1="184.00" x2="265.77" y2="184.00" stroke="#3a3030" stroke-width="0.55"/>
<rect x="244.62" y="187.00" width="21.15" height="2.50" fill="#e04848" stroke="none" stroke-width="1" />
<line x1="244.62" y1="187.00" x2="265.77" y2="187.00" stroke="#3a3030" stroke-width="0.55"/>
<rect x="244.62" y="189.50" width="21.15" height="1.56" fill="#8a3030" stroke="none" stroke-width="1" />
<line x1="244.62" y1="189.50" x2="265.77" y2="189.50" stroke="#3a3030" stroke-width="0.55"/>
<rect x="244.62" y="140.06" width="21.15" height="51.00" fill="none" stroke="#4a4a4a" stroke-width="0.9" />
<rect x="268.26" y="140.06" width="21.15" height="51.00" fill="#ececec" stroke="none" stroke-width="1" />
<rect x="268.26" y="154.25" width="21.15" height="9.25" fill="#2f7db8" stroke="none" stroke-width="1" />
<line x1="268.26" y1="154.25" x2="289.41" y2="154.25" stroke="#3a3030" stroke-width="0.7"/>
<rect x="268.26" y="163.50" width="21.15" height="7.50" fill="#80c0a8" stroke="none" stroke-width="1" />
<line x1="268.26" y1="163.50" x2="289.41" y2="163.50" stroke="#3a3030" stroke-width="0.55"/>
<rect x="268.26" y="171.00" width="21.15" height="5.00" fill="#3a9a3a" stroke="none" stroke-width="1" />
<line x1="268.26" y1="171.00" x2="289.41" y2="171.00" stroke="#3a3030" stroke-width="0.55"/>
<rect x="268.26" y="176.00" width="21.15" height="3.00" fill="#f09090" stroke="none" stroke-width="1" />
<line x1="268.26" y1="176.00" x2="289.41" y2="176.00" stroke="#3a3030" stroke-width="0.55"/>
<rect x="268.26" y="179.00" width="21.15" height="3.50" fill="#e0383a" stroke="none" stroke-width="1" />
<line x1="268.26" y1="179.00" x2="289.41" y2="179.00" stroke="#3a3030" stroke-width="0.55"/>
<rect x="268.26" y="182.50" width="21.15" height="3.50" fill="#d03030" stroke="none" stroke-width="1" />
<line x1="268.26" y1="182.50" x2="289.41" y2="182.50" stroke="#3a3030" stroke-width="0.55"/>
<rect x="268.26" y="186.00" width="21.15" height="3.50" fill="#e0383a" stroke="none" stroke-width="1" />
<line x1="268.26" y1="186.00" x2="289.41" y2="186.00" stroke="#3a3030" stroke-width="0.55"/>
<rect x="268.26" y="189.50" width="21.15" height="1.56" fill="#9a3a30" stroke="none" stroke-width="1" />
<line x1="268.26" y1="189.50" x2="289.41" y2="189.50" stroke="#3a3030" stroke-width="0.55"/>
<rect x="268.26" y="140.06" width="21.15" height="51.00" fill="none" stroke="#4a4a4a" stroke-width="0.9" />
<rect x="291.90" y="140.06" width="21.15" height="51.00" fill="#ececec" stroke="none" stroke-width="1" />
<rect x="291.90" y="154.25" width="21.15" height="9.25" fill="#2f7db8" stroke="none" stroke-width="1" />
<line x1="291.90" y1="154.25" x2="313.05" y2="154.25" stroke="#3a3030" stroke-width="0.7"/>
<rect x="291.90" y="163.50" width="21.15" height="8.75" fill="#80c0a8" stroke="none" stroke-width="1" />
<line x1="291.90" y1="163.50" x2="313.05" y2="163.50" stroke="#3a3030" stroke-width="0.55"/>
<rect x="291.90" y="172.25" width="21.15" height="5.00" fill="#3a9a3a" stroke="none" stroke-width="1" />
<line x1="291.90" y1="172.25" x2="313.05" y2="172.25" stroke="#3a3030" stroke-width="0.55"/>
<rect x="291.90" y="177.25" width="21.15" height="2.75" fill="#e0383a" stroke="none" stroke-width="1" />
<line x1="291.90" y1="177.25" x2="313.05" y2="177.25" stroke="#3a3030" stroke-width="0.55"/>
<rect x="291.90" y="180.00" width="21.15" height="2.50" fill="#f09090" stroke="none" stroke-width="1" />
<line x1="291.90" y1="180.00" x2="313.05" y2="180.00" stroke="#3a3030" stroke-width="0.55"/>
<rect x="291.90" y="182.50" width="21.15" height="3.50" fill="#e0383a" stroke="none" stroke-width="1" />
<line x1="291.90" y1="182.50" x2="313.05" y2="182.50" stroke="#3a3030" stroke-width="0.55"/>
<rect x="291.90" y="186.00" width="21.15" height="3.00" fill="#d03030" stroke="none" stroke-width="1" />
<line x1="291.90" y1="186.00" x2="313.05" y2="186.00" stroke="#3a3030" stroke-width="0.55"/>
<rect x="291.90" y="189.00" width="21.15" height="2.06" fill="#c89080" stroke="none" stroke-width="1" />
<line x1="291.90" y1="189.00" x2="313.05" y2="189.00" stroke="#3a3030" stroke-width="0.55"/>
<rect x="291.90" y="140.06" width="21.15" height="51.00" fill="none" stroke="#4a4a4a" stroke-width="0.9" />
<rect x="315.54" y="140.06" width="21.15" height="51.00" fill="#ececec" stroke="none" stroke-width="1" />
<rect x="315.54" y="154.25" width="21.15" height="8.75" fill="#2f7db8" stroke="none" stroke-width="1" />
<line x1="315.54" y1="154.25" x2="336.69" y2="154.25" stroke="#3a3030" stroke-width="0.7"/>
<rect x="315.54" y="163.00" width="21.15" height="7.25" fill="#80c0a8" stroke="none" stroke-width="1" />
<line x1="315.54" y1="163.00" x2="336.69" y2="163.00" stroke="#3a3030" stroke-width="0.55"/>
<rect x="315.54" y="170.25" width="21.15" height="5.75" fill="#3a9a3a" stroke="none" stroke-width="1" />
<line x1="315.54" y1="170.25" x2="336.69" y2="170.25" stroke="#3a3030" stroke-width="0.55"/>
<rect x="315.54" y="176.00" width="21.15" height="3.00" fill="#e0383a" stroke="none" stroke-width="1" />
<line x1="315.54" y1="176.00" x2="336.69" y2="176.00" stroke="#3a3030" stroke-width="0.55"/>
<rect x="315.54" y="179.00" width="21.15" height="3.00" fill="#f09090" stroke="none" stroke-width="1" />
<line x1="315.54" y1="179.00" x2="336.69" y2="179.00" stroke="#3a3030" stroke-width="0.55"/>
<rect x="315.54" y="182.00" width="21.15" height="3.50" fill="#e0383a" stroke="none" stroke-width="1" />
<line x1="315.54" y1="182.00" x2="336.69" y2="182.00" stroke="#3a3030" stroke-width="0.55"/>
<rect x="315.54" y="185.50" width="21.15" height="3.50" fill="#d03030" stroke="none" stroke-width="1" />
<line x1="315.54" y1="185.50" x2="336.69" y2="185.50" stroke="#3a3030" stroke-width="0.55"/>
<rect x="315.54" y="189.00" width="21.15" height="2.06" fill="#c89080" stroke="none" stroke-width="1" />
<line x1="315.54" y1="189.00" x2="336.69" y2="189.00" stroke="#3a3030" stroke-width="0.55"/>
<rect x="315.54" y="140.06" width="21.15" height="51.00" fill="none" stroke="#4a4a4a" stroke-width="0.9" />
<rect x="362.82" y="140.06" width="21.15" height="51.00" fill="#ececec" stroke="none" stroke-width="1" />
<rect x="362.82" y="151.75" width="21.15" height="10.50" fill="#2f7db8" stroke="none" stroke-width="1" />
<line x1="362.82" y1="151.75" x2="383.97" y2="151.75" stroke="#3a3030" stroke-width="0.7"/>
<rect x="362.82" y="162.25" width="21.15" height="9.50" fill="#80c0a8" stroke="none" stroke-width="1" />
<line x1="362.82" y1="162.25" x2="383.97" y2="162.25" stroke="#3a3030" stroke-width="0.55"/>
<rect x="362.82" y="171.75" width="21.15" height="4.75" fill="#3a9a3a" stroke="none" stroke-width="1" />
<line x1="362.82" y1="171.75" x2="383.97" y2="171.75" stroke="#3a3030" stroke-width="0.55"/>
<rect x="362.82" y="176.50" width="21.15" height="5.25" fill="#4aa040" stroke="none" stroke-width="1" />
<line x1="362.82" y1="176.50" x2="383.97" y2="176.50" stroke="#3a3030" stroke-width="0.55"/>
<rect x="362.82" y="181.75" width="21.15" height="1.75" fill="#f09090" stroke="none" stroke-width="1" />
<line x1="362.82" y1="181.75" x2="383.97" y2="181.75" stroke="#3a3030" stroke-width="0.55"/>
<rect x="362.82" y="183.50" width="21.15" height="4.00" fill="#c03030" stroke="none" stroke-width="1" />
<line x1="362.82" y1="183.50" x2="383.97" y2="183.50" stroke="#3a3030" stroke-width="0.55"/>
<rect x="362.82" y="187.50" width="21.15" height="3.56" fill="#a02a2a" stroke="none" stroke-width="1" />
<line x1="362.82" y1="187.50" x2="383.97" y2="187.50" stroke="#3a3030" stroke-width="0.55"/>
<rect x="362.82" y="140.06" width="21.15" height="51.00" fill="none" stroke="#4a4a4a" stroke-width="0.9" />
<rect x="69.30" y="145.50" width="17.40" height="9.70" fill="#edf7e9" stroke="#4a4a4a" stroke-width="0.8" />
<text x="78.00" y="152.90" font-size="6.9" fill="#66985e" text-anchor="middle" font-weight="normal" textLength="10.8" lengthAdjust="spacingAndGlyphs" >Pt 3</text>
<line x1="49.30" y1="198.49" x2="52.00" y2="198.49" stroke="#444" stroke-width="0.9"/>
<text x="45.90" y="200.79" font-size="6.6" fill="#3a3a3a" text-anchor="end" font-weight="normal" textLength="17.78" lengthAdjust="spacingAndGlyphs" >20.0%</text>
<line x1="49.30" y1="211.26" x2="52.00" y2="211.26" stroke="#444" stroke-width="0.9"/>
<text x="45.90" y="213.56" font-size="6.6" fill="#3a3a3a" text-anchor="end" font-weight="normal" textLength="17.78" lengthAdjust="spacingAndGlyphs" >15.0%</text>
<line x1="49.30" y1="224.04" x2="52.00" y2="224.04" stroke="#444" stroke-width="0.9"/>
<text x="45.90" y="226.34" font-size="6.6" fill="#3a3a3a" text-anchor="end" font-weight="normal" textLength="17.78" lengthAdjust="spacingAndGlyphs" >10.0%</text>
<line x1="49.30" y1="236.81" x2="52.00" y2="236.81" stroke="#444" stroke-width="0.9"/>
<text x="45.90" y="239.12" font-size="6.6" fill="#3a3a3a" text-anchor="end" font-weight="normal" textLength="14.29" lengthAdjust="spacingAndGlyphs" >5.0%</text>
<line x1="49.30" y1="249.59" x2="52.00" y2="249.59" stroke="#444" stroke-width="0.9"/>
<text x="45.90" y="251.89" font-size="6.6" fill="#3a3a3a" text-anchor="end" font-weight="normal" textLength="14.29" lengthAdjust="spacingAndGlyphs" >0.0%</text>
<rect x="52.00" y="196.30" width="359.50" height="56.10" fill="#fff" stroke="#5a5a5a" stroke-width="0.9" />
<rect x="55.50" y="198.49" width="21.15" height="51.00" fill="#ececec" stroke="none" stroke-width="1" />
<rect x="55.50" y="198.49" width="21.15" height="51.00" fill="none" stroke="#4a4a4a" stroke-width="0.9" />
<rect x="79.14" y="198.49" width="21.15" height="51.00" fill="#ececec" stroke="none" stroke-width="1" />
<rect x="79.14" y="198.49" width="21.15" height="51.00" fill="none" stroke="#4a4a4a" stroke-width="0.9" />
<rect x="126.42" y="198.49" width="21.15" height="51.00" fill="#ececec" stroke="none" stroke-width="1" />
<rect x="126.42" y="215.25" width="21.15" height="10.50" fill="#3a8aa8" stroke="none" stroke-width="1" />
<line x1="126.42" y1="215.25" x2="147.57" y2="215.25" stroke="#3a3030" stroke-width="0.7"/>
<rect x="126.42" y="225.75" width="21.15" height="8.25" fill="#8ccf9a" stroke="none" stroke-width="1" />
<line x1="126.42" y1="225.75" x2="147.57" y2="225.75" stroke="#3a3030" stroke-width="0.55"/>
<rect x="126.42" y="234.00" width="21.15" height="7.50" fill="#b0dc8a" stroke="none" stroke-width="1" />
<line x1="126.42" y1="234.00" x2="147.57" y2="234.00" stroke="#3a3030" stroke-width="0.55"/>
<rect x="126.42" y="241.50" width="21.15" height="4.25" fill="#5aaa4a" stroke="none" stroke-width="1" />
<line x1="126.42" y1="241.50" x2="147.57" y2="241.50" stroke="#3a3030" stroke-width="0.55"/>
<rect x="126.42" y="245.75" width="21.15" height="2.75" fill="#4a9a3a" stroke="none" stroke-width="1" />
<line x1="126.42" y1="245.75" x2="147.57" y2="245.75" stroke="#3a3030" stroke-width="0.55"/>
<rect x="126.42" y="248.50" width="21.15" height="0.99" fill="#3a8a3a" stroke="none" stroke-width="1" />
<line x1="126.42" y1="248.50" x2="147.57" y2="248.50" stroke="#3a3030" stroke-width="0.55"/>
<rect x="126.42" y="198.49" width="21.15" height="51.00" fill="none" stroke="#4a4a4a" stroke-width="0.9" />
<rect x="150.06" y="198.49" width="21.15" height="51.00" fill="#ececec" stroke="none" stroke-width="1" />
<rect x="150.06" y="238.25" width="21.15" height="1.25" fill="#1e1e1e" stroke="none" stroke-width="1" />
<line x1="150.06" y1="238.25" x2="171.21" y2="238.25" stroke="#3a3030" stroke-width="0.7"/>
<rect x="150.06" y="239.50" width="21.15" height="5.50" fill="#5aaa4a" stroke="none" stroke-width="1" />
<line x1="150.06" y1="239.50" x2="171.21" y2="239.50" stroke="#3a3030" stroke-width="0.55"/>
<rect x="150.06" y="245.00" width="21.15" height="3.50" fill="#4a9a3a" stroke="none" stroke-width="1" />
<line x1="150.06" y1="245.00" x2="171.21" y2="245.00" stroke="#3a3030" stroke-width="0.55"/>
<rect x="150.06" y="248.50" width="21.15" height="0.99" fill="#3a8a3a" stroke="none" stroke-width="1" />
<line x1="150.06" y1="248.50" x2="171.21" y2="248.50" stroke="#3a3030" stroke-width="0.55"/>
<rect x="150.06" y="198.49" width="21.15" height="51.00" fill="none" stroke="#4a4a4a" stroke-width="0.9" />
<rect x="173.70" y="198.49" width="21.15" height="51.00" fill="#ececec" stroke="none" stroke-width="1" />
<rect x="173.70" y="243.25" width="21.15" height="3.75" fill="#6ab850" stroke="none" stroke-width="1" />
<line x1="173.70" y1="243.25" x2="194.85" y2="243.25" stroke="#3a3030" stroke-width="0.7"/>
<rect x="173.70" y="247.00" width="21.15" height="2.49" fill="#4a9a3a" stroke="none" stroke-width="1" />
<line x1="173.70" y1="247.00" x2="194.85" y2="247.00" stroke="#3a3030" stroke-width="0.55"/>
<rect x="173.70" y="198.49" width="21.15" height="51.00" fill="none" stroke="#4a4a4a" stroke-width="0.9" />
<rect x="197.34" y="198.49" width="21.15" height="51.00" fill="#ececec" stroke="none" stroke-width="1" />
<rect x="197.34" y="244.75" width="21.15" height="4.74" fill="#3a8a3a" stroke="none" stroke-width="1" />
<line x1="197.34" y1="244.75" x2="218.49" y2="244.75" stroke="#3a3030" stroke-width="0.7"/>
<rect x="197.34" y="198.49" width="21.15" height="51.00" fill="none" stroke="#4a4a4a" stroke-width="0.9" />
<rect x="220.98" y="198.49" width="21.15" height="51.00" fill="#ececec" stroke="none" stroke-width="1" />
<rect x="220.98" y="239.75" width="21.15" height="4.25" fill="#4a9a3a" stroke="none" stroke-width="1" />
<line x1="220.98" y1="239.75" x2="242.13" y2="239.75" stroke="#3a3030" stroke-width="0.7"/>
<rect x="220.98" y="244.00" width="21.15" height="3.50" fill="#c8a080" stroke="none" stroke-width="1" />
<line x1="220.98" y1="244.00" x2="242.13" y2="244.00" stroke="#3a3030" stroke-width="0.55"/>
<rect x="220.98" y="247.50" width="21.15" height="1.99" fill="#6a4a30" stroke="none" stroke-width="1" />
<line x1="220.98" y1="247.50" x2="242.13" y2="247.50" stroke="#3a3030" stroke-width="0.55"/>
<rect x="220.98" y="198.49" width="21.15" height="51.00" fill="none" stroke="#4a4a4a" stroke-width="0.9" />
<rect x="244.62" y="198.49" width="21.15" height="51.00" fill="#ececec" stroke="none" stroke-width="1" />
<rect x="244.62" y="244.00" width="21.15" height="3.50" fill="#4a3a30" stroke="none" stroke-width="1" />
<line x1="244.62" y1="244.00" x2="265.77" y2="244.00" stroke="#3a3030" stroke-width="0.7"/>
<rect x="244.62" y="247.50" width="21.15" height="1.99" fill="#6a4a34" stroke="none" stroke-width="1" />
<line x1="244.62" y1="247.50" x2="265.77" y2="247.50" stroke="#3a3030" stroke-width="0.55"/>
<rect x="244.62" y="198.49" width="21.15" height="51.00" fill="none" stroke="#4a4a4a" stroke-width="0.9" />
<rect x="268.26" y="198.49" width="21.15" height="51.00" fill="#ececec" stroke="none" stroke-width="1" />
<rect x="268.26" y="240.25" width="21.15" height="3.00" fill="#4a9a3a" stroke="none" stroke-width="1" />
<line x1="268.26" y1="240.25" x2="289.41" y2="240.25" stroke="#3a3030" stroke-width="0.7"/>
<rect x="268.26" y="243.25" width="21.15" height="2.75" fill="#e08a30" stroke="none" stroke-width="1" />
<line x1="268.26" y1="243.25" x2="289.41" y2="243.25" stroke="#3a3030" stroke-width="0.55"/>
<rect x="268.26" y="246.00" width="21.15" height="2.50" fill="#f0a040" stroke="none" stroke-width="1" />
<line x1="268.26" y1="246.00" x2="289.41" y2="246.00" stroke="#3a3030" stroke-width="0.55"/>
<rect x="268.26" y="248.50" width="21.15" height="0.99" fill="#4a3a30" stroke="none" stroke-width="1" />
<line x1="268.26" y1="248.50" x2="289.41" y2="248.50" stroke="#3a3030" stroke-width="0.55"/>
<rect x="268.26" y="198.49" width="21.15" height="51.00" fill="none" stroke="#4a4a4a" stroke-width="0.9" />
<rect x="291.90" y="198.49" width="21.15" height="51.00" fill="#ececec" stroke="none" stroke-width="1" />
<rect x="291.90" y="246.00" width="21.15" height="3.49" fill="#4a3020" stroke="none" stroke-width="1" />
<line x1="291.90" y1="246.00" x2="313.05" y2="246.00" stroke="#3a3030" stroke-width="0.7"/>
<rect x="291.90" y="198.49" width="21.15" height="51.00" fill="none" stroke="#4a4a4a" stroke-width="0.9" />
<rect x="315.54" y="198.49" width="21.15" height="51.00" fill="#ececec" stroke="none" stroke-width="1" />
<rect x="315.54" y="242.00" width="21.15" height="3.25" fill="#4a9a3a" stroke="none" stroke-width="1" />
<line x1="315.54" y1="242.00" x2="336.69" y2="242.00" stroke="#3a3030" stroke-width="0.7"/>
<rect x="315.54" y="245.25" width="21.15" height="2.75" fill="#e8903a" stroke="none" stroke-width="1" />
<line x1="315.54" y1="245.25" x2="336.69" y2="245.25" stroke="#3a3030" stroke-width="0.55"/>
<rect x="315.54" y="248.00" width="21.15" height="1.49" fill="#6a4028" stroke="none" stroke-width="1" />
<line x1="315.54" y1="248.00" x2="336.69" y2="248.00" stroke="#3a3030" stroke-width="0.55"/>
<rect x="315.54" y="198.49" width="21.15" height="51.00" fill="none" stroke="#4a4a4a" stroke-width="0.9" />
<rect x="362.82" y="198.49" width="21.15" height="51.00" fill="#ececec" stroke="none" stroke-width="1" />
<rect x="362.82" y="247.25" width="21.15" height="2.24" fill="#555555" stroke="none" stroke-width="1" />
<line x1="362.82" y1="247.25" x2="383.97" y2="247.25" stroke="#3a3030" stroke-width="0.7"/>
<rect x="362.82" y="198.49" width="21.15" height="51.00" fill="none" stroke="#4a4a4a" stroke-width="0.9" />
<rect x="69.30" y="204.10" width="17.40" height="9.70" fill="#fdf4ea" stroke="#4a4a4a" stroke-width="0.8" />
<text x="78.00" y="211.50" font-size="6.9" fill="#e2a060" text-anchor="middle" font-weight="normal" textLength="10.8" lengthAdjust="spacingAndGlyphs" >Pt 4</text>
<line x1="49.30" y1="256.92" x2="52.00" y2="256.92" stroke="#444" stroke-width="0.9"/>
<text x="45.90" y="259.22" font-size="6.6" fill="#3a3a3a" text-anchor="end" font-weight="normal" textLength="17.78" lengthAdjust="spacingAndGlyphs" >20.0%</text>
<line x1="49.30" y1="269.69" x2="52.00" y2="269.69" stroke="#444" stroke-width="0.9"/>
<text x="45.90" y="272.00" font-size="6.6" fill="#3a3a3a" text-anchor="end" font-weight="normal" textLength="17.78" lengthAdjust="spacingAndGlyphs" >15.0%</text>
<line x1="49.30" y1="282.47" x2="52.00" y2="282.47" stroke="#444" stroke-width="0.9"/>
<text x="45.90" y="284.77" font-size="6.6" fill="#3a3a3a" text-anchor="end" font-weight="normal" textLength="17.78" lengthAdjust="spacingAndGlyphs" >10.0%</text>
<line x1="49.30" y1="295.25" x2="52.00" y2="295.25" stroke="#444" stroke-width="0.9"/>
<text x="45.90" y="297.55" font-size="6.6" fill="#3a3a3a" text-anchor="end" font-weight="normal" textLength="14.29" lengthAdjust="spacingAndGlyphs" >5.0%</text>
<line x1="49.30" y1="308.02" x2="52.00" y2="308.02" stroke="#444" stroke-width="0.9"/>
<text x="45.90" y="310.32" font-size="6.6" fill="#3a3a3a" text-anchor="end" font-weight="normal" textLength="14.29" lengthAdjust="spacingAndGlyphs" >0.0%</text>
<rect x="52.00" y="254.90" width="359.50" height="56.10" fill="#fff" stroke="#5a5a5a" stroke-width="0.9" />
<rect x="55.50" y="256.92" width="21.15" height="51.00" fill="#ececec" stroke="none" stroke-width="1" />
<rect x="55.50" y="256.92" width="21.15" height="51.00" fill="none" stroke="#4a4a4a" stroke-width="0.9" />
<rect x="79.14" y="256.92" width="21.15" height="51.00" fill="#ececec" stroke="none" stroke-width="1" />
<rect x="79.14" y="256.92" width="21.15" height="51.00" fill="none" stroke="#4a4a4a" stroke-width="0.9" />
<rect x="102.78" y="256.92" width="21.15" height="51.00" fill="#ececec" stroke="none" stroke-width="1" />
<rect x="102.78" y="256.92" width="21.15" height="51.00" fill="none" stroke="#4a4a4a" stroke-width="0.9" />
<rect x="126.42" y="256.92" width="21.15" height="51.00" fill="#ececec" stroke="none" stroke-width="1" />
<rect x="126.42" y="304.00" width="21.15" height="2.80" fill="#574858" stroke="none" stroke-width="1" />
<line x1="126.42" y1="304.00" x2="147.57" y2="304.00" stroke="#3a3030" stroke-width="0.7"/>
<rect x="126.42" y="306.80" width="21.15" height="1.12" fill="#7a6a60" stroke="none" stroke-width="1" />
<line x1="126.42" y1="306.80" x2="147.57" y2="306.80" stroke="#3a3030" stroke-width="0.55"/>
<rect x="126.42" y="256.92" width="21.15" height="51.00" fill="none" stroke="#4a4a4a" stroke-width="0.9" />
<rect x="150.06" y="256.92" width="21.15" height="51.00" fill="#ececec" stroke="none" stroke-width="1" />
<rect x="150.06" y="305.25" width="21.15" height="2.67" fill="#1a1a1a" stroke="none" stroke-width="1" />
<line x1="150.06" y1="305.25" x2="171.21" y2="305.25" stroke="#3a3030" stroke-width="0.7"/>
<rect x="150.06" y="256.92" width="21.15" height="51.00" fill="none" stroke="#4a4a4a" stroke-width="0.9" />
<rect x="173.70" y="256.92" width="21.15" height="51.00" fill="#ececec" stroke="none" stroke-width="1" />
<rect x="173.70" y="305.75" width="21.15" height="2.17" fill="#1a1a1a" stroke="none" stroke-width="1" />
<line x1="173.70" y1="305.75" x2="194.85" y2="305.75" stroke="#3a3030" stroke-width="0.7"/>
<rect x="173.70" y="256.92" width="21.15" height="51.00" fill="none" stroke="#4a4a4a" stroke-width="0.9" />
<rect x="197.34" y="256.92" width="21.15" height="51.00" fill="#ececec" stroke="none" stroke-width="1" />
<rect x="197.34" y="302.00" width="21.15" height="5.92" fill="#705858" stroke="none" stroke-width="1" />
<line x1="197.34" y1="302.00" x2="218.49" y2="302.00" stroke="#3a3030" stroke-width="0.7"/>
<rect x="197.34" y="256.92" width="21.15" height="51.00" fill="none" stroke="#4a4a4a" stroke-width="0.9" />
<rect x="220.98" y="256.92" width="21.15" height="51.00" fill="#ececec" stroke="none" stroke-width="1" />
<rect x="220.98" y="300.25" width="21.15" height="1.75" fill="#f08878" stroke="none" stroke-width="1" />
<line x1="220.98" y1="300.25" x2="242.13" y2="300.25" stroke="#3a3030" stroke-width="0.7"/>
<rect x="220.98" y="302.00" width="21.15" height="1.75" fill="#f4a090" stroke="none" stroke-width="1" />
<line x1="220.98" y1="302.00" x2="242.13" y2="302.00" stroke="#3a3030" stroke-width="0.55"/>
<rect x="220.98" y="303.75" width="21.15" height="2.25" fill="#e88a30" stroke="none" stroke-width="1" />
<line x1="220.98" y1="303.75" x2="242.13" y2="303.75" stroke="#3a3030" stroke-width="0.55"/>
<rect x="220.98" y="306.00" width="21.15" height="1.92" fill="#1e1e1e" stroke="none" stroke-width="1" />
<line x1="220.98" y1="306.00" x2="242.13" y2="306.00" stroke="#3a3030" stroke-width="0.55"/>
<rect x="220.98" y="256.92" width="21.15" height="51.00" fill="none" stroke="#4a4a4a" stroke-width="0.9" />
<rect x="268.26" y="256.92" width="21.15" height="51.00" fill="#ececec" stroke="none" stroke-width="1" />
<rect x="268.26" y="304.00" width="21.15" height="3.92" fill="#a07060" stroke="none" stroke-width="1" />
<line x1="268.26" y1="304.00" x2="289.41" y2="304.00" stroke="#3a3030" stroke-width="0.7"/>
<rect x="268.26" y="256.92" width="21.15" height="51.00" fill="none" stroke="#4a4a4a" stroke-width="0.9" />
<rect x="69.30" y="262.70" width="17.40" height="9.70" fill="#f3f0f7" stroke="#4a4a4a" stroke-width="0.8" />
<text x="78.00" y="270.10" font-size="6.9" fill="#6a5a8a" text-anchor="middle" font-weight="normal" textLength="10.8" lengthAdjust="spacingAndGlyphs" >Pt 5</text>
<line x1="66.08" y1="311.00" x2="66.08" y2="313.60" stroke="#444" stroke-width="0.9"/>
<text x="66.08" y="322.80" font-size="6.8" fill="#3a3a3a" text-anchor="middle" font-weight="normal" >M1</text>
<line x1="89.72" y1="311.00" x2="89.72" y2="313.60" stroke="#444" stroke-width="0.9"/>
<text x="89.72" y="322.80" font-size="6.8" fill="#3a3a3a" text-anchor="middle" font-weight="normal" >M1.5</text>
<line x1="113.36" y1="311.00" x2="113.36" y2="313.60" stroke="#444" stroke-width="0.9"/>
<text x="113.36" y="322.80" font-size="6.8" fill="#3a3a3a" text-anchor="middle" font-weight="normal" >M3</text>
<line x1="137.00" y1="311.00" x2="137.00" y2="313.60" stroke="#444" stroke-width="0.9"/>
<text x="137.00" y="322.80" font-size="6.8" fill="#3a3a3a" text-anchor="middle" font-weight="normal" >M6</text>
<line x1="160.63" y1="311.00" x2="160.63" y2="313.60" stroke="#444" stroke-width="0.9"/>
<text x="160.63" y="322.80" font-size="6.8" fill="#3a3a3a" text-anchor="middle" font-weight="normal" >M9</text>
<line x1="184.27" y1="311.00" x2="184.27" y2="313.60" stroke="#444" stroke-width="0.9"/>
<text x="184.27" y="322.80" font-size="6.8" fill="#3a3a3a" text-anchor="middle" font-weight="normal" >Y1</text>
<line x1="207.91" y1="311.00" x2="207.91" y2="313.60" stroke="#444" stroke-width="0.9"/>
<text x="207.91" y="322.80" font-size="6.8" fill="#3a3a3a" text-anchor="middle" font-weight="normal" >Y1.5</text>
<line x1="231.56" y1="311.00" x2="231.56" y2="313.60" stroke="#444" stroke-width="0.9"/>
<text x="231.56" y="322.80" font-size="6.8" fill="#3a3a3a" text-anchor="middle" font-weight="normal" >Y2</text>
<line x1="255.19" y1="311.00" x2="255.19" y2="313.60" stroke="#444" stroke-width="0.9"/>
<text x="255.19" y="322.80" font-size="6.8" fill="#3a3a3a" text-anchor="middle" font-weight="normal" >Y2.5</text>
<line x1="278.83" y1="311.00" x2="278.83" y2="313.60" stroke="#444" stroke-width="0.9"/>
<text x="278.83" y="322.80" font-size="6.8" fill="#3a3a3a" text-anchor="middle" font-weight="normal" >Y3</text>
<line x1="302.47" y1="311.00" x2="302.47" y2="313.60" stroke="#444" stroke-width="0.9"/>
<text x="302.47" y="322.80" font-size="6.8" fill="#3a3a3a" text-anchor="middle" font-weight="normal" >Y3.5</text>
<line x1="326.12" y1="311.00" x2="326.12" y2="313.60" stroke="#444" stroke-width="0.9"/>
<text x="326.12" y="322.80" font-size="6.8" fill="#3a3a3a" text-anchor="middle" font-weight="normal" >Y4</text>
<line x1="349.75" y1="311.00" x2="349.75" y2="313.60" stroke="#444" stroke-width="0.9"/>
<text x="349.75" y="322.80" font-size="6.8" fill="#3a3a3a" text-anchor="middle" font-weight="normal" >Y4.5</text>
<line x1="373.39" y1="311.00" x2="373.39" y2="313.60" stroke="#444" stroke-width="0.9"/>
<text x="373.39" y="322.80" font-size="6.8" fill="#3a3a3a" text-anchor="middle" font-weight="normal" >Y5</text>
<line x1="397.04" y1="311.00" x2="397.04" y2="313.60" stroke="#444" stroke-width="0.9"/>
<text x="397.04" y="322.80" font-size="6.8" fill="#3a3a3a" text-anchor="middle" font-weight="normal" >Y6</text>
<text x="232.10" y="334.90" font-size="8.6" fill="#3a3a3a" text-anchor="middle" font-weight="normal" textLength="30.6" lengthAdjust="spacingAndGlyphs" >Timepoint</text>
<text x="418.00" y="57.20" font-size="6.8" fill="#3a3a3a" text-anchor="start" font-weight="normal" textLength="28.8" lengthAdjust="spacingAndGlyphs" >posidLabel</text>
<rect x="417.80" y="61.15" width="8.40" height="8.29" fill="#f4f4f6" stroke="#3a3a3a" stroke-width="0.7" />
<text x="429.20" y="67.45" font-size="6.5" fill="#3a3a3a" text-anchor="start" font-weight="normal" textLength="28.72" lengthAdjust="spacingAndGlyphs" >LowAbund</text>
<rect x="417.80" y="69.44" width="8.40" height="8.29" fill="#a6cee3" stroke="#3a3a3a" stroke-width="0.7" />
<text x="429.20" y="75.74" font-size="6.5" fill="#3a3a3a" text-anchor="start" font-weight="normal" textLength="19.08" lengthAdjust="spacingAndGlyphs" >NF1 *~</text>
<rect x="417.80" y="77.73" width="8.40" height="8.29" fill="#92c2e2" stroke="#3a3a3a" stroke-width="0.7" />
<text x="429.20" y="84.03" font-size="6.5" fill="#3a3a3a" text-anchor="start" font-weight="normal" textLength="27.36" lengthAdjust="spacingAndGlyphs" >CLASP1 *</text>
<rect x="417.80" y="86.02" width="8.40" height="8.29" fill="#74afd8" stroke="#3a3a3a" stroke-width="0.7" />
<text x="429.20" y="92.32" font-size="6.5" fill="#3a3a3a" text-anchor="start" font-weight="normal" textLength="27.02" lengthAdjust="spacingAndGlyphs" >GTF2E2 *</text>
<rect x="417.80" y="94.31" width="8.40" height="8.29" fill="#4a92c6" stroke="#3a3a3a" stroke-width="0.7" />
<text x="429.20" y="100.61" font-size="6.5" fill="#3a3a3a" text-anchor="start" font-weight="normal" textLength="27.87" lengthAdjust="spacingAndGlyphs" >THADA *~</text>
<rect x="417.80" y="102.60" width="8.40" height="8.29" fill="#2f7fbc" stroke="#3a3a3a" stroke-width="0.7" />
<text x="429.20" y="108.90" font-size="6.5" fill="#3a3a3a" text-anchor="start" font-weight="normal" textLength="20.6" lengthAdjust="spacingAndGlyphs" >CARF *</text>
<rect x="417.80" y="110.89" width="8.40" height="8.29" fill="#2a78b0" stroke="#3a3a3a" stroke-width="0.7" />
<text x="429.20" y="117.19" font-size="6.5" fill="#3a3a3a" text-anchor="start" font-weight="normal" textLength="26.84" lengthAdjust="spacingAndGlyphs" >CMTM6 ~</text>
<rect x="417.80" y="119.18" width="8.40" height="8.29" fill="#3f8aaa" stroke="#3a3a3a" stroke-width="0.7" />
<text x="429.20" y="125.48" font-size="6.5" fill="#3a3a3a" text-anchor="start" font-weight="normal" textLength="28.71" lengthAdjust="spacingAndGlyphs" >MALRD1 *</text>
<rect x="417.80" y="127.47" width="8.40" height="8.29" fill="#66aa98" stroke="#3a3a3a" stroke-width="0.7" />
<text x="429.20" y="133.77" font-size="6.5" fill="#3a3a3a" text-anchor="start" font-weight="normal" textLength="29.05" lengthAdjust="spacingAndGlyphs" >C6orf106 *</text>
<rect x="417.80" y="135.76" width="8.40" height="8.29" fill="#8cc99c" stroke="#3a3a3a" stroke-width="0.7" />
<text x="429.20" y="142.06" font-size="6.5" fill="#3a3a3a" text-anchor="start" font-weight="normal" textLength="20.27" lengthAdjust="spacingAndGlyphs" >UBN2 *</text>
<rect x="417.80" y="144.05" width="8.40" height="8.29" fill="#b2dd8c" stroke="#3a3a3a" stroke-width="0.7" />
<text x="429.20" y="150.35" font-size="6.5" fill="#3a3a3a" text-anchor="start" font-weight="normal" textLength="20.27" lengthAdjust="spacingAndGlyphs" >ABCD1</text>
<rect x="417.80" y="152.34" width="8.40" height="8.29" fill="#a0d47a" stroke="#3a3a3a" stroke-width="0.7" />
<text x="429.20" y="158.64" font-size="6.5" fill="#3a3a3a" text-anchor="start" font-weight="normal" textLength="30.74" lengthAdjust="spacingAndGlyphs" >LINC02384</text>
<rect x="417.80" y="160.63" width="8.40" height="8.29" fill="#7cc466" stroke="#3a3a3a" stroke-width="0.7" />
<text x="429.20" y="166.93" font-size="6.5" fill="#3a3a3a" text-anchor="start" font-weight="normal" textLength="26.02" lengthAdjust="spacingAndGlyphs" >SLC10A3</text>
<rect x="417.80" y="168.92" width="8.40" height="8.29" fill="#52ac48" stroke="#3a3a3a" stroke-width="0.7" />
<text x="429.20" y="175.22" font-size="6.5" fill="#3a3a3a" text-anchor="start" font-weight="normal" textLength="25.67" lengthAdjust="spacingAndGlyphs" >INPP4B *</text>
<rect x="417.80" y="177.21" width="8.40" height="8.29" fill="#3c9e34" stroke="#3a3a3a" stroke-width="0.7" />
<text x="429.20" y="183.51" font-size="6.5" fill="#3a3a3a" text-anchor="start" font-weight="normal" textLength="19.93" lengthAdjust="spacingAndGlyphs" >IFT81 *</text>
<rect x="417.80" y="185.50" width="8.40" height="8.29" fill="#40963a" stroke="#3a3a3a" stroke-width="0.7" />
<text x="429.20" y="191.80" font-size="6.5" fill="#3a3a3a" text-anchor="start" font-weight="normal" textLength="26.86" lengthAdjust="spacingAndGlyphs" >TESK2 *~</text>
<rect x="417.80" y="193.79" width="8.40" height="8.29" fill="#6a9a40" stroke="#3a3a3a" stroke-width="0.7" />
<text x="429.20" y="200.09" font-size="6.5" fill="#3a3a3a" text-anchor="start" font-weight="normal" textLength="27.69" lengthAdjust="spacingAndGlyphs" >ZSWIM4 *</text>
<rect x="417.80" y="202.08" width="8.40" height="8.29" fill="#a2a264" stroke="#3a3a3a" stroke-width="0.7" />
<text x="429.20" y="208.38" font-size="6.5" fill="#3a3a3a" text-anchor="start" font-weight="normal" textLength="17.56" lengthAdjust="spacingAndGlyphs" >ICE2 *</text>
<rect x="417.80" y="210.37" width="8.40" height="8.29" fill="#d8a48a" stroke="#3a3a3a" stroke-width="0.7" />
<text x="429.20" y="216.67" font-size="6.5" fill="#3a3a3a" text-anchor="start" font-weight="normal" textLength="16.89" lengthAdjust="spacingAndGlyphs" >CPD *</text>
<rect x="417.80" y="218.66" width="8.40" height="8.29" fill="#f4a4a0" stroke="#3a3a3a" stroke-width="0.7" />
<text x="429.20" y="224.96" font-size="6.5" fill="#3a3a3a" text-anchor="start" font-weight="normal" textLength="28.43" lengthAdjust="spacingAndGlyphs" >RENBP *~</text>
<rect x="417.80" y="226.95" width="8.40" height="8.29" fill="#f08484" stroke="#3a3a3a" stroke-width="0.7" />
<text x="429.20" y="233.25" font-size="6.5" fill="#3a3a3a" text-anchor="start" font-weight="normal" textLength="31.42" lengthAdjust="spacingAndGlyphs" >RPS6KA3 *</text>
<rect x="417.80" y="235.24" width="8.40" height="8.29" fill="#ec6262" stroke="#3a3a3a" stroke-width="0.7" />
<text x="429.20" y="241.54" font-size="6.5" fill="#3a3a3a" text-anchor="start" font-weight="normal" textLength="14.86" lengthAdjust="spacingAndGlyphs" >FBF1</text>
<rect x="417.80" y="243.53" width="8.40" height="8.29" fill="#e84444" stroke="#3a3a3a" stroke-width="0.7" />
<text x="429.20" y="249.83" font-size="6.5" fill="#3a3a3a" text-anchor="start" font-weight="normal" textLength="26.35" lengthAdjust="spacingAndGlyphs" >ZBTB20 *</text>
<rect x="417.80" y="251.82" width="8.40" height="8.29" fill="#e32222" stroke="#3a3a3a" stroke-width="0.7" />
<text x="429.20" y="258.12" font-size="6.5" fill="#3a3a3a" text-anchor="start" font-weight="normal" textLength="23.82" lengthAdjust="spacingAndGlyphs" >KIF22 *~</text>
<rect x="417.80" y="260.11" width="8.40" height="8.29" fill="#e02828" stroke="#3a3a3a" stroke-width="0.7" />
<text x="429.20" y="266.41" font-size="6.5" fill="#3a3a3a" text-anchor="start" font-weight="normal" textLength="23.98" lengthAdjust="spacingAndGlyphs" >DCAF1 *</text>
<rect x="417.80" y="268.40" width="8.40" height="8.29" fill="#f04434" stroke="#3a3a3a" stroke-width="0.7" />
<text x="429.20" y="274.70" font-size="6.5" fill="#3a3a3a" text-anchor="start" font-weight="normal" textLength="20.44" lengthAdjust="spacingAndGlyphs" >UNK *~</text>
<rect x="467.20" y="61.15" width="8.40" height="8.29" fill="#e8603c" stroke="#3a3a3a" stroke-width="0.7" />
<text x="477.90" y="67.45" font-size="6.5" fill="#3a3a3a" text-anchor="start" font-weight="normal" textLength="29.56" lengthAdjust="spacingAndGlyphs" >ZNF331 *~</text>
<rect x="467.20" y="69.44" width="8.40" height="8.29" fill="#f08a58" stroke="#3a3a3a" stroke-width="0.7" />
<text x="477.90" y="75.74" font-size="6.5" fill="#3a3a3a" text-anchor="start" font-weight="normal" textLength="35.36" lengthAdjust="spacingAndGlyphs" >CDC42BPA *</text>
<rect x="467.20" y="77.73" width="8.40" height="8.29" fill="#fcb464" stroke="#3a3a3a" stroke-width="0.7" />
<text x="477.90" y="84.03" font-size="6.5" fill="#3a3a3a" text-anchor="start" font-weight="normal" textLength="28.6" lengthAdjust="spacingAndGlyphs" >C11orf54 *</text>
<rect x="467.20" y="86.02" width="8.40" height="8.29" fill="#fdbd6c" stroke="#3a3a3a" stroke-width="0.7" />
<text x="477.90" y="92.32" font-size="6.5" fill="#3a3a3a" text-anchor="start" font-weight="normal" textLength="23.65" lengthAdjust="spacingAndGlyphs" >RAD51 *</text>
<rect x="467.20" y="94.31" width="8.40" height="8.29" fill="#fca640" stroke="#3a3a3a" stroke-width="0.7" />
<text x="477.90" y="100.61" font-size="6.5" fill="#3a3a3a" text-anchor="start" font-weight="normal" textLength="23.14" lengthAdjust="spacingAndGlyphs" >CD84 *~</text>
<rect x="467.20" y="102.60" width="8.40" height="8.29" fill="#fe9a2c" stroke="#3a3a3a" stroke-width="0.7" />
<text x="477.90" y="108.90" font-size="6.5" fill="#3a3a3a" text-anchor="start" font-weight="normal" textLength="18.07" lengthAdjust="spacingAndGlyphs" >ABO ~</text>
<rect x="467.20" y="110.89" width="8.40" height="8.29" fill="#ff8c18" stroke="#3a3a3a" stroke-width="0.7" />
<text x="477.90" y="117.19" font-size="6.5" fill="#3a3a3a" text-anchor="start" font-weight="normal" textLength="27.08" lengthAdjust="spacingAndGlyphs" >STAG1 *~</text>
<rect x="467.20" y="119.18" width="8.40" height="8.29" fill="#ff9020" stroke="#3a3a3a" stroke-width="0.7" />
<text x="477.90" y="125.48" font-size="6.5" fill="#3a3a3a" text-anchor="start" font-weight="normal" textLength="22.28" lengthAdjust="spacingAndGlyphs" >GMFG *</text>
<rect x="467.20" y="127.47" width="8.40" height="8.29" fill="#f49448" stroke="#3a3a3a" stroke-width="0.7" />
<text x="477.90" y="133.77" font-size="6.5" fill="#3a3a3a" text-anchor="start" font-weight="normal" textLength="27.19" lengthAdjust="spacingAndGlyphs" >SETD2 *~</text>
<rect x="467.20" y="135.76" width="8.40" height="8.29" fill="#f0a478" stroke="#3a3a3a" stroke-width="0.7" />
<text x="477.90" y="142.06" font-size="6.5" fill="#3a3a3a" text-anchor="start" font-weight="normal" textLength="28.88" lengthAdjust="spacingAndGlyphs" >GOPD3 *~</text>
<rect x="467.20" y="144.05" width="8.40" height="8.29" fill="#e2b4a8" stroke="#3a3a3a" stroke-width="0.7" />
<text x="477.90" y="150.35" font-size="6.5" fill="#3a3a3a" text-anchor="start" font-weight="normal" textLength="25.17" lengthAdjust="spacingAndGlyphs" >GNA15 ~</text>
<rect x="467.20" y="152.34" width="8.40" height="8.29" fill="#d8bcdc" stroke="#3a3a3a" stroke-width="0.7" />
<text x="477.90" y="158.64" font-size="6.5" fill="#3a3a3a" text-anchor="start" font-weight="normal" textLength="23.98" lengthAdjust="spacingAndGlyphs" >FOXK2 *</text>
<rect x="467.20" y="160.63" width="8.40" height="8.29" fill="#c2a4da" stroke="#3a3a3a" stroke-width="0.7" />
<text x="477.90" y="166.93" font-size="6.5" fill="#3a3a3a" text-anchor="start" font-weight="normal" textLength="25.89" lengthAdjust="spacingAndGlyphs" >CMAHP *</text>
<rect x="467.20" y="168.92" width="8.40" height="8.29" fill="#a486d2" stroke="#3a3a3a" stroke-width="0.7" />
<text x="477.90" y="175.22" font-size="6.5" fill="#3a3a3a" text-anchor="start" font-weight="normal" textLength="28.88" lengthAdjust="spacingAndGlyphs" >GOPD3 *~</text>
<rect x="467.20" y="177.21" width="8.40" height="8.29" fill="#9072c4" stroke="#3a3a3a" stroke-width="0.7" />
<text x="477.90" y="183.51" font-size="6.5" fill="#3a3a3a" text-anchor="start" font-weight="normal" textLength="20.6" lengthAdjust="spacingAndGlyphs" >DTNB *</text>
<rect x="467.20" y="185.50" width="8.40" height="8.29" fill="#6a46a0" stroke="#3a3a3a" stroke-width="0.7" />
<text x="477.90" y="191.80" font-size="6.5" fill="#3a3a3a" text-anchor="start" font-weight="normal" textLength="16.1" lengthAdjust="spacingAndGlyphs" >DBT *</text>
<rect x="467.20" y="193.79" width="8.40" height="8.29" fill="#5a3a94" stroke="#3a3a3a" stroke-width="0.7" />
<text x="477.90" y="200.09" font-size="6.5" fill="#3a3a3a" text-anchor="start" font-weight="normal" textLength="30.07" lengthAdjust="spacingAndGlyphs" >SLC16A2 *</text>
<rect x="467.20" y="202.08" width="8.40" height="8.29" fill="#8474a4" stroke="#3a3a3a" stroke-width="0.7" />
<text x="477.90" y="208.38" font-size="6.5" fill="#3a3a3a" text-anchor="start" font-weight="normal" textLength="24.32" lengthAdjust="spacingAndGlyphs" >ALDOA *</text>
<rect x="467.20" y="210.37" width="8.40" height="8.29" fill="#b4a4ac" stroke="#3a3a3a" stroke-width="0.7" />
<text x="477.90" y="216.67" font-size="6.5" fill="#3a3a3a" text-anchor="start" font-weight="normal" textLength="23.82" lengthAdjust="spacingAndGlyphs" >NBR1 *~</text>
<rect x="467.20" y="218.66" width="8.40" height="8.29" fill="#dac6a4" stroke="#3a3a3a" stroke-width="0.7" />
<text x="477.90" y="224.96" font-size="6.5" fill="#3a3a3a" text-anchor="start" font-weight="normal" textLength="25.5" lengthAdjust="spacingAndGlyphs" >BIRC6 *~</text>
<rect x="467.20" y="226.95" width="8.40" height="8.29" fill="#fcf0a0" stroke="#3a3a3a" stroke-width="0.7" />
<text x="477.90" y="233.25" font-size="6.5" fill="#3a3a3a" text-anchor="start" font-weight="normal" textLength="20.94" lengthAdjust="spacingAndGlyphs" >NAGA *</text>
<rect x="467.20" y="235.24" width="8.40" height="8.29" fill="#f8f084" stroke="#3a3a3a" stroke-width="0.7" />
<text x="477.90" y="241.54" font-size="6.5" fill="#3a3a3a" text-anchor="start" font-weight="normal" textLength="30.29" lengthAdjust="spacingAndGlyphs" >LINC02211</text>
<rect x="467.20" y="243.53" width="8.40" height="8.29" fill="#ead27e" stroke="#3a3a3a" stroke-width="0.7" />
<text x="477.90" y="249.83" font-size="6.5" fill="#3a3a3a" text-anchor="start" font-weight="normal" textLength="29.22" lengthAdjust="spacingAndGlyphs" >HMGA2 *~</text>
<rect x="467.20" y="251.82" width="8.40" height="8.29" fill="#e2b46e" stroke="#3a3a3a" stroke-width="0.7" />
<text x="477.90" y="258.12" font-size="6.5" fill="#3a3a3a" text-anchor="start" font-weight="normal" textLength="24.15" lengthAdjust="spacingAndGlyphs" >MAP4 *~</text>
<rect x="467.20" y="260.11" width="8.40" height="8.29" fill="#d29452" stroke="#3a3a3a" stroke-width="0.7" />
<text x="477.90" y="266.41" font-size="6.5" fill="#3a3a3a" text-anchor="start" font-weight="normal" textLength="25.67" lengthAdjust="spacingAndGlyphs" >UVRAG *</text>
<rect x="467.20" y="268.40" width="8.40" height="8.29" fill="#b65a2a" stroke="#3a3a3a" stroke-width="0.7" />
<text x="477.90" y="274.70" font-size="6.5" fill="#3a3a3a" text-anchor="start" font-weight="normal" textLength="30.9" lengthAdjust="spacingAndGlyphs" >MECOM *~</text>
<text x="7.60" y="361.70" font-size="10.0" fill="#111" text-anchor="start" font-weight="bold" stroke="#111" stroke-width="0.45">B</text>
<text transform="translate(14.3,468.8) rotate(-90)" font-size="8.2" fill="#333" text-anchor="middle" textLength="44" lengthAdjust="spacingAndGlyphs">Simpson index</text>
<line x1="31.80" y1="368.90" x2="34.60" y2="368.90" stroke="#333" stroke-width="0.9"/>
<text x="28.30" y="371.10" font-size="6.5" fill="#3a3a3a" text-anchor="end" font-weight="normal" textLength="8.13" lengthAdjust="spacingAndGlyphs" >0.8</text>
<line x1="31.80" y1="377.62" x2="34.60" y2="377.62" stroke="#333" stroke-width="0.9"/>
<text x="28.30" y="379.82" font-size="6.5" fill="#3a3a3a" text-anchor="end" font-weight="normal" textLength="8.13" lengthAdjust="spacingAndGlyphs" >0.6</text>
<line x1="31.80" y1="386.35" x2="34.60" y2="386.35" stroke="#333" stroke-width="0.9"/>
<text x="28.30" y="388.55" font-size="6.5" fill="#3a3a3a" text-anchor="end" font-weight="normal" textLength="8.13" lengthAdjust="spacingAndGlyphs" >0.4</text>
<line x1="31.80" y1="395.07" x2="34.60" y2="395.07" stroke="#333" stroke-width="0.9"/>
<text x="28.30" y="397.27" font-size="6.5" fill="#3a3a3a" text-anchor="end" font-weight="normal" textLength="8.13" lengthAdjust="spacingAndGlyphs" >0.2</text>
<line x1="31.80" y1="403.80" x2="34.60" y2="403.80" stroke="#333" stroke-width="0.9"/>
<text x="28.30" y="406.00" font-size="6.5" fill="#3a3a3a" text-anchor="end" font-weight="normal" textLength="8.13" lengthAdjust="spacingAndGlyphs" >0.0</text>
<rect x="34.60" y="367.00" width="254.80" height="38.50" fill="#fff" stroke="#555" stroke-width="1.0" />
<polyline points="44.50,397.70 61.28,396.82 78.06,398.57 94.84,386.80 128.40,382.00 145.18,390.28 161.96,384.62 178.74,382.87 195.52,387.67 212.30,383.31 229.08,383.31 245.86,384.18 262.64,383.31" fill="none" stroke="#42a6de" stroke-width="1.1" stroke-linejoin="round"/>
<polyline points="44.50,394.64 61.28,391.16 78.06,396.39 94.84,385.92 128.40,372.84 145.18,384.18 161.96,379.82 178.74,382.00 195.52,383.31 212.30,376.77 229.08,376.77 245.86,376.77 262.64,375.46" fill="none" stroke="#1c5e4c" stroke-width="1.1" stroke-linejoin="round"/>
<polyline points="44.50,400.31 61.28,399.44 78.06,402.06 94.84,399.00 128.40,378.08 145.18,387.23 161.96,385.49 178.74,385.49 195.52,381.13 212.30,382.00 229.08,381.13 245.86,379.82 262.64,388.10" fill="none" stroke="#d9872c" stroke-width="1.1" stroke-linejoin="round"/>
<polyline points="44.50,398.13 61.28,396.39 78.06,397.70 94.84,392.46 128.40,385.92 145.18,384.62 161.96,384.62 178.74,382.00 195.52,384.18 212.30,382.00 229.08,382.00 245.86,382.00 262.64,382.87 279.42,382.00" fill="none" stroke="#9d92d2" stroke-width="1.1" stroke-linejoin="round"/>
<polyline points="44.50,400.31 61.28,395.08 78.06,395.52 94.84,387.23 128.40,383.74 145.18,394.21 161.96,386.80 178.74,384.18 195.52,383.74 212.30,382.87 229.08,378.95 245.86,378.51 262.64,382.00 279.42,389.85" fill="none" stroke="#5a3212" stroke-width="1.1" stroke-linejoin="round"/>
<circle cx="44.50" cy="397.70" r="1.95" fill="#42a6de"/>
<circle cx="61.28" cy="396.82" r="1.95" fill="#42a6de"/>
<circle cx="78.06" cy="398.57" r="1.95" fill="#42a6de"/>
<circle cx="94.84" cy="386.80" r="1.95" fill="#42a6de"/>
<circle cx="128.40" cy="382.00" r="1.95" fill="#42a6de"/>
<circle cx="145.18" cy="390.28" r="1.95" fill="#42a6de"/>
<circle cx="161.96" cy="384.62" r="1.95" fill="#42a6de"/>
<circle cx="178.74" cy="382.87" r="1.95" fill="#42a6de"/>
<circle cx="195.52" cy="387.67" r="1.95" fill="#42a6de"/>
<circle cx="212.30" cy="383.31" r="1.95" fill="#42a6de"/>
<circle cx="229.08" cy="383.31" r="1.95" fill="#42a6de"/>
<circle cx="245.86" cy="384.18" r="1.95" fill="#42a6de"/>
<circle cx="262.64" cy="383.31" r="1.95" fill="#42a6de"/>
<circle cx="44.50" cy="394.64" r="1.95" fill="#1c5e4c"/>
<circle cx="61.28" cy="391.16" r="1.95" fill="#1c5e4c"/>
<circle cx="78.06" cy="396.39" r="1.95" fill="#1c5e4c"/>
<circle cx="94.84" cy="385.92" r="1.95" fill="#1c5e4c"/>
<circle cx="128.40" cy="372.84" r="1.95" fill="#1c5e4c"/>
<circle cx="145.18" cy="384.18" r="1.95" fill="#1c5e4c"/>
<circle cx="161.96" cy="379.82" r="1.95" fill="#1c5e4c"/>
<circle cx="178.74" cy="382.00" r="1.95" fill="#1c5e4c"/>
<circle cx="195.52" cy="383.31" r="1.95" fill="#1c5e4c"/>
<circle cx="212.30" cy="376.77" r="1.95" fill="#1c5e4c"/>
<circle cx="229.08" cy="376.77" r="1.95" fill="#1c5e4c"/>
<circle cx="245.86" cy="376.77" r="1.95" fill="#1c5e4c"/>
<circle cx="262.64" cy="375.46" r="1.95" fill="#1c5e4c"/>
<circle cx="44.50" cy="400.31" r="1.95" fill="#d9872c"/>
<circle cx="61.28" cy="399.44" r="1.95" fill="#d9872c"/>
<circle cx="78.06" cy="402.06" r="1.95" fill="#d9872c"/>
<circle cx="94.84" cy="399.00" r="1.95" fill="#d9872c"/>
<circle cx="128.40" cy="378.08" r="1.95" fill="#d9872c"/>
<circle cx="145.18" cy="387.23" r="1.95" fill="#d9872c"/>
<circle cx="161.96" cy="385.49" r="1.95" fill="#d9872c"/>
<circle cx="178.74" cy="385.49" r="1.95" fill="#d9872c"/>
<circle cx="195.52" cy="381.13" r="1.95" fill="#d9872c"/>
<circle cx="212.30" cy="382.00" r="1.95" fill="#d9872c"/>
<circle cx="229.08" cy="381.13" r="1.95" fill="#d9872c"/>
<circle cx="245.86" cy="379.82" r="1.95" fill="#d9872c"/>
<circle cx="262.64" cy="388.10" r="1.95" fill="#d9872c"/>
<circle cx="44.50" cy="398.13" r="1.95" fill="#9d92d2"/>
<circle cx="61.28" cy="396.39" r="1.95" fill="#9d92d2"/>
<circle cx="78.06" cy="397.70" r="1.95" fill="#9d92d2"/>
<circle cx="94.84" cy="392.46" r="1.95" fill="#9d92d2"/>
<circle cx="128.40" cy="385.92" r="1.95" fill="#9d92d2"/>
<circle cx="145.18" cy="384.62" r="1.95" fill="#9d92d2"/>
<circle cx="161.96" cy="384.62" r="1.95" fill="#9d92d2"/>
<circle cx="178.74" cy="382.00" r="1.95" fill="#9d92d2"/>
<circle cx="195.52" cy="384.18" r="1.95" fill="#9d92d2"/>
<circle cx="212.30" cy="382.00" r="1.95" fill="#9d92d2"/>
<circle cx="229.08" cy="382.00" r="1.95" fill="#9d92d2"/>
<circle cx="245.86" cy="382.00" r="1.95" fill="#9d92d2"/>
<circle cx="262.64" cy="382.87" r="1.95" fill="#9d92d2"/>
<circle cx="279.42" cy="382.00" r="1.95" fill="#9d92d2"/>
<circle cx="44.50" cy="400.31" r="1.95" fill="#5a3212"/>
<circle cx="61.28" cy="395.08" r="1.95" fill="#5a3212"/>
<circle cx="78.06" cy="395.52" r="1.95" fill="#5a3212"/>
<circle cx="94.84" cy="387.23" r="1.95" fill="#5a3212"/>
<circle cx="128.40" cy="383.74" r="1.95" fill="#5a3212"/>
<circle cx="145.18" cy="394.21" r="1.95" fill="#5a3212"/>
<circle cx="161.96" cy="386.80" r="1.95" fill="#5a3212"/>
<circle cx="178.74" cy="384.18" r="1.95" fill="#5a3212"/>
<circle cx="195.52" cy="383.74" r="1.95" fill="#5a3212"/>
<circle cx="212.30" cy="382.87" r="1.95" fill="#5a3212"/>
<circle cx="229.08" cy="378.95" r="1.95" fill="#5a3212"/>
<circle cx="245.86" cy="378.51" r="1.95" fill="#5a3212"/>
<circle cx="262.64" cy="382.00" r="1.95" fill="#5a3212"/>
<circle cx="279.42" cy="389.85" r="1.95" fill="#5a3212"/>
<rect x="35.90" y="368.60" width="18.40" height="10.20" fill="#eef3f9" stroke="#444" stroke-width="0.85" />
<text x="45.00" y="376.30" font-size="7.0" fill="#5f7fa6" text-anchor="middle" font-weight="normal" textLength="11.33" lengthAdjust="spacingAndGlyphs" >Pt 1</text>
<line x1="31.80" y1="409.75" x2="34.60" y2="409.75" stroke="#333" stroke-width="0.9"/>
<text x="28.30" y="411.95" font-size="6.5" fill="#3a3a3a" text-anchor="end" font-weight="normal" textLength="8.13" lengthAdjust="spacingAndGlyphs" >0.8</text>
<line x1="31.80" y1="418.48" x2="34.60" y2="418.48" stroke="#333" stroke-width="0.9"/>
<text x="28.30" y="420.68" font-size="6.5" fill="#3a3a3a" text-anchor="end" font-weight="normal" textLength="8.13" lengthAdjust="spacingAndGlyphs" >0.6</text>
<line x1="31.80" y1="427.20" x2="34.60" y2="427.20" stroke="#333" stroke-width="0.9"/>
<text x="28.30" y="429.40" font-size="6.5" fill="#3a3a3a" text-anchor="end" font-weight="normal" textLength="8.13" lengthAdjust="spacingAndGlyphs" >0.4</text>
<line x1="31.80" y1="435.93" x2="34.60" y2="435.93" stroke="#333" stroke-width="0.9"/>
<text x="28.30" y="438.12" font-size="6.5" fill="#3a3a3a" text-anchor="end" font-weight="normal" textLength="8.13" lengthAdjust="spacingAndGlyphs" >0.2</text>
<line x1="31.80" y1="444.65" x2="34.60" y2="444.65" stroke="#333" stroke-width="0.9"/>
<text x="28.30" y="446.85" font-size="6.5" fill="#3a3a3a" text-anchor="end" font-weight="normal" textLength="8.13" lengthAdjust="spacingAndGlyphs" >0.0</text>
<rect x="34.60" y="407.85" width="254.80" height="38.50" fill="#fff" stroke="#555" stroke-width="1.0" />
<polyline points="44.50,438.98 61.28,438.11 78.06,438.11 94.84,431.57 111.62,431.57 128.40,427.21 145.18,425.47 161.96,427.21 178.74,423.72 195.52,423.72 212.30,425.90 229.08,428.52 245.86,420.67" fill="none" stroke="#42a6de" stroke-width="1.1" stroke-linejoin="round"/>
<polyline points="44.50,438.11 61.28,439.85 78.06,438.11 94.84,428.08 111.62,438.11 128.40,431.57 145.18,429.39 161.96,426.34 178.74,426.34 195.52,422.85 212.30,429.83 229.08,427.21 245.86,419.80" fill="none" stroke="#1c5e4c" stroke-width="1.1" stroke-linejoin="round"/>
<polyline points="44.50,438.98 61.28,432.88 78.06,430.70 94.84,429.39 111.62,428.52 128.40,424.16 145.18,428.52 161.96,423.72 178.74,419.36 195.52,428.52 212.30,424.59 229.08,424.59 245.86,425.03" fill="none" stroke="#d9872c" stroke-width="1.1" stroke-linejoin="round"/>
<polyline points="44.50,440.29 61.28,435.06 78.06,433.75 94.84,430.26 111.62,431.57 128.40,425.90 145.18,425.47 161.96,424.59 178.74,421.98 195.52,420.67 212.30,420.67 229.08,419.80 245.86,420.67 262.64,432.44 279.42,422.85" fill="none" stroke="#9d92d2" stroke-width="1.1" stroke-linejoin="round"/>
<polyline points="44.50,437.24 61.28,435.93 78.06,433.75 94.84,426.77 111.62,435.93 128.40,428.52 145.18,429.39 161.96,432.44 178.74,425.03 195.52,423.72 212.30,423.72 229.08,424.16 245.86,418.93 262.64,425.03 279.42,425.90" fill="none" stroke="#5a3212" stroke-width="1.1" stroke-linejoin="round"/>
<circle cx="44.50" cy="438.98" r="1.95" fill="#42a6de"/>
<circle cx="61.28" cy="438.11" r="1.95" fill="#42a6de"/>
<circle cx="78.06" cy="438.11" r="1.95" fill="#42a6de"/>
<circle cx="94.84" cy="431.57" r="1.95" fill="#42a6de"/>
<circle cx="111.62" cy="431.57" r="1.95" fill="#42a6de"/>
<circle cx="128.40" cy="427.21" r="1.95" fill="#42a6de"/>
<circle cx="145.18" cy="425.47" r="1.95" fill="#42a6de"/>
<circle cx="161.96" cy="427.21" r="1.95" fill="#42a6de"/>
<circle cx="178.74" cy="423.72" r="1.95" fill="#42a6de"/>
<circle cx="195.52" cy="423.72" r="1.95" fill="#42a6de"/>
<circle cx="212.30" cy="425.90" r="1.95" fill="#42a6de"/>
<circle cx="229.08" cy="428.52" r="1.95" fill="#42a6de"/>
<circle cx="245.86" cy="420.67" r="1.95" fill="#42a6de"/>
<circle cx="44.50" cy="438.11" r="1.95" fill="#1c5e4c"/>
<circle cx="61.28" cy="439.85" r="1.95" fill="#1c5e4c"/>
<circle cx="78.06" cy="438.11" r="1.95" fill="#1c5e4c"/>
<circle cx="94.84" cy="428.08" r="1.95" fill="#1c5e4c"/>
<circle cx="111.62" cy="438.11" r="1.95" fill="#1c5e4c"/>
<circle cx="128.40" cy="431.57" r="1.95" fill="#1c5e4c"/>
<circle cx="145.18" cy="429.39" r="1.95" fill="#1c5e4c"/>
<circle cx="161.96" cy="426.34" r="1.95" fill="#1c5e4c"/>
<circle cx="178.74" cy="426.34" r="1.95" fill="#1c5e4c"/>
<circle cx="195.52" cy="422.85" r="1.95" fill="#1c5e4c"/>
<circle cx="212.30" cy="429.83" r="1.95" fill="#1c5e4c"/>
<circle cx="229.08" cy="427.21" r="1.95" fill="#1c5e4c"/>
<circle cx="245.86" cy="419.80" r="1.95" fill="#1c5e4c"/>
<circle cx="44.50" cy="438.98" r="1.95" fill="#d9872c"/>
<circle cx="61.28" cy="432.88" r="1.95" fill="#d9872c"/>
<circle cx="78.06" cy="430.70" r="1.95" fill="#d9872c"/>
<circle cx="94.84" cy="429.39" r="1.95" fill="#d9872c"/>
<circle cx="111.62" cy="428.52" r="1.95" fill="#d9872c"/>
<circle cx="128.40" cy="424.16" r="1.95" fill="#d9872c"/>
<circle cx="145.18" cy="428.52" r="1.95" fill="#d9872c"/>
<circle cx="161.96" cy="423.72" r="1.95" fill="#d9872c"/>
<circle cx="178.74" cy="419.36" r="1.95" fill="#d9872c"/>
<circle cx="195.52" cy="428.52" r="1.95" fill="#d9872c"/>
<circle cx="212.30" cy="424.59" r="1.95" fill="#d9872c"/>
<circle cx="229.08" cy="424.59" r="1.95" fill="#d9872c"/>
<circle cx="245.86" cy="425.03" r="1.95" fill="#d9872c"/>
<circle cx="44.50" cy="440.29" r="1.95" fill="#9d92d2"/>
<circle cx="61.28" cy="435.06" r="1.95" fill="#9d92d2"/>
<circle cx="78.06" cy="433.75" r="1.95" fill="#9d92d2"/>
<circle cx="94.84" cy="430.26" r="1.95" fill="#9d92d2"/>
<circle cx="111.62" cy="431.57" r="1.95" fill="#9d92d2"/>
<circle cx="128.40" cy="425.90" r="1.95" fill="#9d92d2"/>
<circle cx="145.18" cy="425.47" r="1.95" fill="#9d92d2"/>
<circle cx="161.96" cy="424.59" r="1.95" fill="#9d92d2"/>
<circle cx="178.74" cy="421.98" r="1.95" fill="#9d92d2"/>
<circle cx="195.52" cy="420.67" r="1.95" fill="#9d92d2"/>
<circle cx="212.30" cy="420.67" r="1.95" fill="#9d92d2"/>
<circle cx="229.08" cy="419.80" r="1.95" fill="#9d92d2"/>
<circle cx="245.86" cy="420.67" r="1.95" fill="#9d92d2"/>
<circle cx="262.64" cy="432.44" r="1.95" fill="#9d92d2"/>
<circle cx="279.42" cy="422.85" r="1.95" fill="#9d92d2"/>
<circle cx="44.50" cy="437.24" r="1.95" fill="#5a3212"/>
<circle cx="61.28" cy="435.93" r="1.95" fill="#5a3212"/>
<circle cx="78.06" cy="433.75" r="1.95" fill="#5a3212"/>
<circle cx="94.84" cy="426.77" r="1.95" fill="#5a3212"/>
<circle cx="111.62" cy="435.93" r="1.95" fill="#5a3212"/>
<circle cx="128.40" cy="428.52" r="1.95" fill="#5a3212"/>
<circle cx="145.18" cy="429.39" r="1.95" fill="#5a3212"/>
<circle cx="161.96" cy="432.44" r="1.95" fill="#5a3212"/>
<circle cx="178.74" cy="425.03" r="1.95" fill="#5a3212"/>
<circle cx="195.52" cy="423.72" r="1.95" fill="#5a3212"/>
<circle cx="212.30" cy="423.72" r="1.95" fill="#5a3212"/>
<circle cx="229.08" cy="424.16" r="1.95" fill="#5a3212"/>
<circle cx="245.86" cy="418.93" r="1.95" fill="#5a3212"/>
<circle cx="262.64" cy="425.03" r="1.95" fill="#5a3212"/>
<circle cx="279.42" cy="425.90" r="1.95" fill="#5a3212"/>
<rect x="35.90" y="409.45" width="18.40" height="10.20" fill="#fcedf2" stroke="#444" stroke-width="0.85" />
<text x="45.00" y="417.15" font-size="7.0" fill="#c8323f" text-anchor="middle" font-weight="normal" textLength="11.33" lengthAdjust="spacingAndGlyphs" >Pt 2</text>
<line x1="31.80" y1="450.60" x2="34.60" y2="450.60" stroke="#333" stroke-width="0.9"/>
<text x="28.30" y="452.80" font-size="6.5" fill="#3a3a3a" text-anchor="end" font-weight="normal" textLength="8.13" lengthAdjust="spacingAndGlyphs" >0.8</text>
<line x1="31.80" y1="459.32" x2="34.60" y2="459.32" stroke="#333" stroke-width="0.9"/>
<text x="28.30" y="461.52" font-size="6.5" fill="#3a3a3a" text-anchor="end" font-weight="normal" textLength="8.13" lengthAdjust="spacingAndGlyphs" >0.6</text>
<line x1="31.80" y1="468.05" x2="34.60" y2="468.05" stroke="#333" stroke-width="0.9"/>
<text x="28.30" y="470.25" font-size="6.5" fill="#3a3a3a" text-anchor="end" font-weight="normal" textLength="8.13" lengthAdjust="spacingAndGlyphs" >0.4</text>
<line x1="31.80" y1="476.77" x2="34.60" y2="476.77" stroke="#333" stroke-width="0.9"/>
<text x="28.30" y="478.97" font-size="6.5" fill="#3a3a3a" text-anchor="end" font-weight="normal" textLength="8.13" lengthAdjust="spacingAndGlyphs" >0.2</text>
<line x1="31.80" y1="485.50" x2="34.60" y2="485.50" stroke="#333" stroke-width="0.9"/>
<text x="28.30" y="487.70" font-size="6.5" fill="#3a3a3a" text-anchor="end" font-weight="normal" textLength="8.13" lengthAdjust="spacingAndGlyphs" >0.0</text>
<rect x="34.60" y="448.70" width="254.80" height="38.50" fill="#fff" stroke="#555" stroke-width="1.0" />
<polyline points="44.50,481.14 61.28,481.14 78.06,475.04 94.84,467.62 111.62,463.70 128.40,465.88 145.18,463.70 161.96,459.34 178.74,458.47 195.52,461.52 229.08,459.34" fill="none" stroke="#42a6de" stroke-width="1.1" stroke-linejoin="round"/>
<polyline points="44.50,479.40 61.28,480.27 78.06,470.24 94.84,464.14 111.62,461.52 128.40,464.57 145.18,460.21 161.96,453.67 178.74,451.06 195.52,461.08 229.08,461.08" fill="none" stroke="#1c5e4c" stroke-width="1.1" stroke-linejoin="round"/>
<polyline points="44.50,481.14 61.28,478.09 78.06,471.98 94.84,473.73 111.62,468.06 128.40,468.06 145.18,469.37 161.96,469.37 178.74,467.19 195.52,468.50 229.08,473.73" fill="none" stroke="#d9872c" stroke-width="1.1" stroke-linejoin="round"/>
<polyline points="44.50,483.32 61.28,483.76 78.06,479.83 94.84,470.68 111.62,468.93 128.40,467.19 145.18,463.70 161.96,461.52 178.74,457.16 195.52,456.29 212.30,456.29 229.08,455.85 262.64,461.08" fill="none" stroke="#9d92d2" stroke-width="1.1" stroke-linejoin="round"/>
<polyline points="78.06,478.52 94.84,479.83 111.62,472.42 128.40,465.01 145.18,462.83 161.96,461.52 178.74,460.21 195.52,463.70 229.08,457.16" fill="none" stroke="#5a3212" stroke-width="1.1" stroke-linejoin="round"/>
<circle cx="44.50" cy="481.14" r="1.95" fill="#42a6de"/>
<circle cx="61.28" cy="481.14" r="1.95" fill="#42a6de"/>
<circle cx="78.06" cy="475.04" r="1.95" fill="#42a6de"/>
<circle cx="94.84" cy="467.62" r="1.95" fill="#42a6de"/>
<circle cx="111.62" cy="463.70" r="1.95" fill="#42a6de"/>
<circle cx="128.40" cy="465.88" r="1.95" fill="#42a6de"/>
<circle cx="145.18" cy="463.70" r="1.95" fill="#42a6de"/>
<circle cx="161.96" cy="459.34" r="1.95" fill="#42a6de"/>
<circle cx="178.74" cy="458.47" r="1.95" fill="#42a6de"/>
<circle cx="195.52" cy="461.52" r="1.95" fill="#42a6de"/>
<circle cx="229.08" cy="459.34" r="1.95" fill="#42a6de"/>
<circle cx="44.50" cy="479.40" r="1.95" fill="#1c5e4c"/>
<circle cx="61.28" cy="480.27" r="1.95" fill="#1c5e4c"/>
<circle cx="78.06" cy="470.24" r="1.95" fill="#1c5e4c"/>
<circle cx="94.84" cy="464.14" r="1.95" fill="#1c5e4c"/>
<circle cx="111.62" cy="461.52" r="1.95" fill="#1c5e4c"/>
<circle cx="128.40" cy="464.57" r="1.95" fill="#1c5e4c"/>
<circle cx="145.18" cy="460.21" r="1.95" fill="#1c5e4c"/>
<circle cx="161.96" cy="453.67" r="1.95" fill="#1c5e4c"/>
<circle cx="178.74" cy="451.06" r="1.95" fill="#1c5e4c"/>
<circle cx="195.52" cy="461.08" r="1.95" fill="#1c5e4c"/>
<circle cx="229.08" cy="461.08" r="1.95" fill="#1c5e4c"/>
<circle cx="44.50" cy="481.14" r="1.95" fill="#d9872c"/>
<circle cx="61.28" cy="478.09" r="1.95" fill="#d9872c"/>
<circle cx="78.06" cy="471.98" r="1.95" fill="#d9872c"/>
<circle cx="94.84" cy="473.73" r="1.95" fill="#d9872c"/>
<circle cx="111.62" cy="468.06" r="1.95" fill="#d9872c"/>
<circle cx="128.40" cy="468.06" r="1.95" fill="#d9872c"/>
<circle cx="145.18" cy="469.37" r="1.95" fill="#d9872c"/>
<circle cx="161.96" cy="469.37" r="1.95" fill="#d9872c"/>
<circle cx="178.74" cy="467.19" r="1.95" fill="#d9872c"/>
<circle cx="195.52" cy="468.50" r="1.95" fill="#d9872c"/>
<circle cx="229.08" cy="473.73" r="1.95" fill="#d9872c"/>
<circle cx="44.50" cy="483.32" r="1.95" fill="#9d92d2"/>
<circle cx="61.28" cy="483.76" r="1.95" fill="#9d92d2"/>
<circle cx="78.06" cy="479.83" r="1.95" fill="#9d92d2"/>
<circle cx="94.84" cy="470.68" r="1.95" fill="#9d92d2"/>
<circle cx="111.62" cy="468.93" r="1.95" fill="#9d92d2"/>
<circle cx="128.40" cy="467.19" r="1.95" fill="#9d92d2"/>
<circle cx="145.18" cy="463.70" r="1.95" fill="#9d92d2"/>
<circle cx="161.96" cy="461.52" r="1.95" fill="#9d92d2"/>
<circle cx="178.74" cy="457.16" r="1.95" fill="#9d92d2"/>
<circle cx="195.52" cy="456.29" r="1.95" fill="#9d92d2"/>
<circle cx="212.30" cy="456.29" r="1.95" fill="#9d92d2"/>
<circle cx="229.08" cy="455.85" r="1.95" fill="#9d92d2"/>
<circle cx="262.64" cy="461.08" r="1.95" fill="#9d92d2"/>
<circle cx="78.06" cy="478.52" r="1.95" fill="#5a3212"/>
<circle cx="94.84" cy="479.83" r="1.95" fill="#5a3212"/>
<circle cx="111.62" cy="472.42" r="1.95" fill="#5a3212"/>
<circle cx="128.40" cy="465.01" r="1.95" fill="#5a3212"/>
<circle cx="145.18" cy="462.83" r="1.95" fill="#5a3212"/>
<circle cx="161.96" cy="461.52" r="1.95" fill="#5a3212"/>
<circle cx="178.74" cy="460.21" r="1.95" fill="#5a3212"/>
<circle cx="195.52" cy="463.70" r="1.95" fill="#5a3212"/>
<circle cx="229.08" cy="457.16" r="1.95" fill="#5a3212"/>
<rect x="35.90" y="450.30" width="18.40" height="10.20" fill="#edf7e9" stroke="#444" stroke-width="0.85" />
<text x="45.00" y="458.00" font-size="7.0" fill="#62a85a" text-anchor="middle" font-weight="normal" textLength="11.33" lengthAdjust="spacingAndGlyphs" >Pt 3</text>
<line x1="31.80" y1="491.45" x2="34.60" y2="491.45" stroke="#333" stroke-width="0.9"/>
<text x="28.30" y="493.65" font-size="6.5" fill="#3a3a3a" text-anchor="end" font-weight="normal" textLength="8.13" lengthAdjust="spacingAndGlyphs" >0.8</text>
<line x1="31.80" y1="500.18" x2="34.60" y2="500.18" stroke="#333" stroke-width="0.9"/>
<text x="28.30" y="502.38" font-size="6.5" fill="#3a3a3a" text-anchor="end" font-weight="normal" textLength="8.13" lengthAdjust="spacingAndGlyphs" >0.6</text>
<line x1="31.80" y1="508.90" x2="34.60" y2="508.90" stroke="#333" stroke-width="0.9"/>
<text x="28.30" y="511.10" font-size="6.5" fill="#3a3a3a" text-anchor="end" font-weight="normal" textLength="8.13" lengthAdjust="spacingAndGlyphs" >0.4</text>
<line x1="31.80" y1="517.62" x2="34.60" y2="517.62" stroke="#333" stroke-width="0.9"/>
<text x="28.30" y="519.83" font-size="6.5" fill="#3a3a3a" text-anchor="end" font-weight="normal" textLength="8.13" lengthAdjust="spacingAndGlyphs" >0.2</text>
<line x1="31.80" y1="526.35" x2="34.60" y2="526.35" stroke="#333" stroke-width="0.9"/>
<text x="28.30" y="528.55" font-size="6.5" fill="#3a3a3a" text-anchor="end" font-weight="normal" textLength="8.13" lengthAdjust="spacingAndGlyphs" >0.0</text>
<rect x="34.60" y="489.55" width="254.80" height="38.50" fill="#fff" stroke="#555" stroke-width="1.0" />
<polyline points="94.84,503.24 161.96,512.83 195.52,515.45 212.30,516.76 229.08,514.14" fill="none" stroke="#42a6de" stroke-width="1.1" stroke-linejoin="round"/>
<polyline points="78.06,521.99 94.84,514.58 111.62,518.50 128.40,516.32 145.18,517.19 161.96,517.63 178.74,517.63 195.52,515.01 212.30,515.45 229.08,516.76" fill="none" stroke="#1c5e4c" stroke-width="1.1" stroke-linejoin="round"/>
<polyline points="44.50,525.48 61.28,525.48 78.06,525.04 94.84,519.37 111.62,508.47 128.40,516.32 145.18,515.45 161.96,515.01 178.74,514.58 195.52,513.27 212.30,513.27 229.08,509.35" fill="none" stroke="#d9872c" stroke-width="1.1" stroke-linejoin="round"/>
<polyline points="44.50,525.48 61.28,525.48 94.84,518.50 111.62,516.76 128.40,515.45 145.18,511.53 161.96,509.78 178.74,507.60 195.52,504.99 212.30,511.09 229.08,503.68 262.64,509.78" fill="none" stroke="#9d92d2" stroke-width="1.1" stroke-linejoin="round"/>
<polyline points="94.84,497.14 111.62,500.19 128.40,501.93 145.18,500.63 161.96,495.39 178.74,492.78 195.52,494.52 212.30,494.52 229.08,494.52 262.64,507.17" fill="none" stroke="#5a3212" stroke-width="1.1" stroke-linejoin="round"/>
<circle cx="94.84" cy="503.24" r="1.95" fill="#42a6de"/>
<circle cx="161.96" cy="512.83" r="1.95" fill="#42a6de"/>
<circle cx="195.52" cy="515.45" r="1.95" fill="#42a6de"/>
<circle cx="212.30" cy="516.76" r="1.95" fill="#42a6de"/>
<circle cx="229.08" cy="514.14" r="1.95" fill="#42a6de"/>
<circle cx="78.06" cy="521.99" r="1.95" fill="#1c5e4c"/>
<circle cx="94.84" cy="514.58" r="1.95" fill="#1c5e4c"/>
<circle cx="111.62" cy="518.50" r="1.95" fill="#1c5e4c"/>
<circle cx="128.40" cy="516.32" r="1.95" fill="#1c5e4c"/>
<circle cx="145.18" cy="517.19" r="1.95" fill="#1c5e4c"/>
<circle cx="161.96" cy="517.63" r="1.95" fill="#1c5e4c"/>
<circle cx="178.74" cy="517.63" r="1.95" fill="#1c5e4c"/>
<circle cx="195.52" cy="515.01" r="1.95" fill="#1c5e4c"/>
<circle cx="212.30" cy="515.45" r="1.95" fill="#1c5e4c"/>
<circle cx="229.08" cy="516.76" r="1.95" fill="#1c5e4c"/>
<circle cx="44.50" cy="525.48" r="1.95" fill="#d9872c"/>
<circle cx="61.28" cy="525.48" r="1.95" fill="#d9872c"/>
<circle cx="78.06" cy="525.04" r="1.95" fill="#d9872c"/>
<circle cx="94.84" cy="519.37" r="1.95" fill="#d9872c"/>
<circle cx="111.62" cy="508.47" r="1.95" fill="#d9872c"/>
<circle cx="128.40" cy="516.32" r="1.95" fill="#d9872c"/>
<circle cx="145.18" cy="515.45" r="1.95" fill="#d9872c"/>
<circle cx="161.96" cy="515.01" r="1.95" fill="#d9872c"/>
<circle cx="178.74" cy="514.58" r="1.95" fill="#d9872c"/>
<circle cx="195.52" cy="513.27" r="1.95" fill="#d9872c"/>
<circle cx="212.30" cy="513.27" r="1.95" fill="#d9872c"/>
<circle cx="229.08" cy="509.35" r="1.95" fill="#d9872c"/>
<circle cx="44.50" cy="525.48" r="1.95" fill="#9d92d2"/>
<circle cx="61.28" cy="525.48" r="1.95" fill="#9d92d2"/>
<circle cx="94.84" cy="518.50" r="1.95" fill="#9d92d2"/>
<circle cx="111.62" cy="516.76" r="1.95" fill="#9d92d2"/>
<circle cx="128.40" cy="515.45" r="1.95" fill="#9d92d2"/>
<circle cx="145.18" cy="511.53" r="1.95" fill="#9d92d2"/>
<circle cx="161.96" cy="509.78" r="1.95" fill="#9d92d2"/>
<circle cx="178.74" cy="507.60" r="1.95" fill="#9d92d2"/>
<circle cx="195.52" cy="504.99" r="1.95" fill="#9d92d2"/>
<circle cx="212.30" cy="511.09" r="1.95" fill="#9d92d2"/>
<circle cx="229.08" cy="503.68" r="1.95" fill="#9d92d2"/>
<circle cx="262.64" cy="509.78" r="1.95" fill="#9d92d2"/>
<circle cx="94.84" cy="497.14" r="1.95" fill="#5a3212"/>
<circle cx="111.62" cy="500.19" r="1.95" fill="#5a3212"/>
<circle cx="128.40" cy="501.93" r="1.95" fill="#5a3212"/>
<circle cx="145.18" cy="500.63" r="1.95" fill="#5a3212"/>
<circle cx="161.96" cy="495.39" r="1.95" fill="#5a3212"/>
<circle cx="178.74" cy="492.78" r="1.95" fill="#5a3212"/>
<circle cx="195.52" cy="494.52" r="1.95" fill="#5a3212"/>
<circle cx="212.30" cy="494.52" r="1.95" fill="#5a3212"/>
<circle cx="229.08" cy="494.52" r="1.95" fill="#5a3212"/>
<circle cx="262.64" cy="507.17" r="1.95" fill="#5a3212"/>
<rect x="35.90" y="491.15" width="18.40" height="10.20" fill="#fdf4ea" stroke="#444" stroke-width="0.85" />
<text x="45.00" y="498.85" font-size="7.0" fill="#e3a468" text-anchor="middle" font-weight="normal" textLength="11.33" lengthAdjust="spacingAndGlyphs" >Pt 4</text>
<line x1="31.80" y1="532.30" x2="34.60" y2="532.30" stroke="#333" stroke-width="0.9"/>
<text x="28.30" y="534.50" font-size="6.5" fill="#3a3a3a" text-anchor="end" font-weight="normal" textLength="8.13" lengthAdjust="spacingAndGlyphs" >0.8</text>
<line x1="31.80" y1="541.02" x2="34.60" y2="541.02" stroke="#333" stroke-width="0.9"/>
<text x="28.30" y="543.23" font-size="6.5" fill="#3a3a3a" text-anchor="end" font-weight="normal" textLength="8.13" lengthAdjust="spacingAndGlyphs" >0.6</text>
<line x1="31.80" y1="549.75" x2="34.60" y2="549.75" stroke="#333" stroke-width="0.9"/>
<text x="28.30" y="551.95" font-size="6.5" fill="#3a3a3a" text-anchor="end" font-weight="normal" textLength="8.13" lengthAdjust="spacingAndGlyphs" >0.4</text>
<line x1="31.80" y1="558.47" x2="34.60" y2="558.47" stroke="#333" stroke-width="0.9"/>
<text x="28.30" y="560.67" font-size="6.5" fill="#3a3a3a" text-anchor="end" font-weight="normal" textLength="8.13" lengthAdjust="spacingAndGlyphs" >0.2</text>
<line x1="31.80" y1="567.20" x2="34.60" y2="567.20" stroke="#333" stroke-width="0.9"/>
<text x="28.30" y="569.40" font-size="6.5" fill="#3a3a3a" text-anchor="end" font-weight="normal" textLength="8.13" lengthAdjust="spacingAndGlyphs" >0.0</text>
<rect x="34.60" y="530.40" width="254.80" height="38.50" fill="#fff" stroke="#555" stroke-width="1.0" />
<polyline points="44.50,565.02 61.28,553.68 78.06,562.84 94.84,559.35 111.62,558.04 128.40,560.66 145.18,552.81 161.96,554.12" fill="none" stroke="#42a6de" stroke-width="1.1" stroke-linejoin="round"/>
<polyline points="61.28,563.28 78.06,558.48 94.84,559.35 111.62,554.12 128.40,560.66 145.18,551.07 161.96,551.94" fill="none" stroke="#1c5e4c" stroke-width="1.1" stroke-linejoin="round"/>
<polyline points="44.50,561.53 61.28,558.04 78.06,560.22 94.84,558.48 111.62,561.10 128.40,557.61 145.18,557.61 161.96,544.53" fill="none" stroke="#d9872c" stroke-width="1.1" stroke-linejoin="round"/>
<polyline points="44.50,565.02 61.28,563.28 78.06,560.66 94.84,558.48 111.62,556.74 128.40,555.86 145.18,551.07 161.96,554.12 195.52,548.45" fill="none" stroke="#9d92d2" stroke-width="1.1" stroke-linejoin="round"/>
<polyline points="78.06,551.94 94.84,551.94 111.62,559.79 128.40,554.56 145.18,551.07 161.96,551.94 195.52,554.56" fill="none" stroke="#5a3212" stroke-width="1.1" stroke-linejoin="round"/>
<circle cx="44.50" cy="565.02" r="1.95" fill="#42a6de"/>
<circle cx="61.28" cy="553.68" r="1.95" fill="#42a6de"/>
<circle cx="78.06" cy="562.84" r="1.95" fill="#42a6de"/>
<circle cx="94.84" cy="559.35" r="1.95" fill="#42a6de"/>
<circle cx="111.62" cy="558.04" r="1.95" fill="#42a6de"/>
<circle cx="128.40" cy="560.66" r="1.95" fill="#42a6de"/>
<circle cx="145.18" cy="552.81" r="1.95" fill="#42a6de"/>
<circle cx="161.96" cy="554.12" r="1.95" fill="#42a6de"/>
<circle cx="61.28" cy="563.28" r="1.95" fill="#1c5e4c"/>
<circle cx="78.06" cy="558.48" r="1.95" fill="#1c5e4c"/>
<circle cx="94.84" cy="559.35" r="1.95" fill="#1c5e4c"/>
<circle cx="111.62" cy="554.12" r="1.95" fill="#1c5e4c"/>
<circle cx="128.40" cy="560.66" r="1.95" fill="#1c5e4c"/>
<circle cx="145.18" cy="551.07" r="1.95" fill="#1c5e4c"/>
<circle cx="161.96" cy="551.94" r="1.95" fill="#1c5e4c"/>
<circle cx="44.50" cy="561.53" r="1.95" fill="#d9872c"/>
<circle cx="61.28" cy="558.04" r="1.95" fill="#d9872c"/>
<circle cx="78.06" cy="560.22" r="1.95" fill="#d9872c"/>
<circle cx="94.84" cy="558.48" r="1.95" fill="#d9872c"/>
<circle cx="111.62" cy="561.10" r="1.95" fill="#d9872c"/>
<circle cx="128.40" cy="557.61" r="1.95" fill="#d9872c"/>
<circle cx="145.18" cy="557.61" r="1.95" fill="#d9872c"/>
<circle cx="161.96" cy="544.53" r="1.95" fill="#d9872c"/>
<circle cx="44.50" cy="565.02" r="1.95" fill="#9d92d2"/>
<circle cx="61.28" cy="563.28" r="1.95" fill="#9d92d2"/>
<circle cx="78.06" cy="560.66" r="1.95" fill="#9d92d2"/>
<circle cx="94.84" cy="558.48" r="1.95" fill="#9d92d2"/>
<circle cx="111.62" cy="556.74" r="1.95" fill="#9d92d2"/>
<circle cx="128.40" cy="555.86" r="1.95" fill="#9d92d2"/>
<circle cx="145.18" cy="551.07" r="1.95" fill="#9d92d2"/>
<circle cx="161.96" cy="554.12" r="1.95" fill="#9d92d2"/>
<circle cx="195.52" cy="548.45" r="1.95" fill="#9d92d2"/>
<circle cx="78.06" cy="551.94" r="1.95" fill="#5a3212"/>
<circle cx="94.84" cy="551.94" r="1.95" fill="#5a3212"/>
<circle cx="111.62" cy="559.79" r="1.95" fill="#5a3212"/>
<circle cx="128.40" cy="554.56" r="1.95" fill="#5a3212"/>
<circle cx="145.18" cy="551.07" r="1.95" fill="#5a3212"/>
<circle cx="161.96" cy="551.94" r="1.95" fill="#5a3212"/>
<circle cx="195.52" cy="554.56" r="1.95" fill="#5a3212"/>
<rect x="35.90" y="532.00" width="18.40" height="10.20" fill="#f3f0f7" stroke="#444" stroke-width="0.85" />
<text x="45.00" y="539.70" font-size="7.0" fill="#6a5a84" text-anchor="middle" font-weight="normal" textLength="11.33" lengthAdjust="spacingAndGlyphs" >Pt 5</text>
<line x1="44.50" y1="568.90" x2="44.50" y2="571.50" stroke="#333" stroke-width="0.9"/>
<text x="44.50" y="580.60" font-size="6.6" fill="#333" text-anchor="middle" font-weight="normal" >M1</text>
<line x1="61.28" y1="568.90" x2="61.28" y2="571.50" stroke="#333" stroke-width="0.9"/>
<text x="61.28" y="580.60" font-size="6.6" fill="#333" text-anchor="middle" font-weight="normal" >M1.5</text>
<line x1="78.06" y1="568.90" x2="78.06" y2="571.50" stroke="#333" stroke-width="0.9"/>
<text x="78.06" y="580.60" font-size="6.6" fill="#333" text-anchor="middle" font-weight="normal" >M3</text>
<line x1="94.84" y1="568.90" x2="94.84" y2="571.50" stroke="#333" stroke-width="0.9"/>
<text x="94.84" y="580.60" font-size="6.6" fill="#333" text-anchor="middle" font-weight="normal" >M6</text>
<line x1="111.62" y1="568.90" x2="111.62" y2="571.50" stroke="#333" stroke-width="0.9"/>
<text x="111.62" y="580.60" font-size="6.6" fill="#333" text-anchor="middle" font-weight="normal" >M9</text>
<line x1="128.40" y1="568.90" x2="128.40" y2="571.50" stroke="#333" stroke-width="0.9"/>
<text x="128.40" y="580.60" font-size="6.6" fill="#333" text-anchor="middle" font-weight="normal" >Y1</text>
<line x1="145.18" y1="568.90" x2="145.18" y2="571.50" stroke="#333" stroke-width="0.9"/>
<text x="145.18" y="580.60" font-size="6.6" fill="#333" text-anchor="middle" font-weight="normal" >Y1.5</text>
<line x1="161.96" y1="568.90" x2="161.96" y2="571.50" stroke="#333" stroke-width="0.9"/>
<text x="161.96" y="580.60" font-size="6.6" fill="#333" text-anchor="middle" font-weight="normal" >Y2</text>
<line x1="178.74" y1="568.90" x2="178.74" y2="571.50" stroke="#333" stroke-width="0.9"/>
<text x="178.74" y="580.60" font-size="6.6" fill="#333" text-anchor="middle" font-weight="normal" >Y2.5</text>
<line x1="195.52" y1="568.90" x2="195.52" y2="571.50" stroke="#333" stroke-width="0.9"/>
<text x="195.52" y="580.60" font-size="6.6" fill="#333" text-anchor="middle" font-weight="normal" >Y3</text>
<line x1="212.30" y1="568.90" x2="212.30" y2="571.50" stroke="#333" stroke-width="0.9"/>
<text x="212.30" y="580.60" font-size="6.6" fill="#333" text-anchor="middle" font-weight="normal" >Y3.5</text>
<line x1="229.08" y1="568.90" x2="229.08" y2="571.50" stroke="#333" stroke-width="0.9"/>
<text x="229.08" y="580.60" font-size="6.6" fill="#333" text-anchor="middle" font-weight="normal" >Y4</text>
<line x1="245.86" y1="568.90" x2="245.86" y2="571.50" stroke="#333" stroke-width="0.9"/>
<text x="245.86" y="580.60" font-size="6.6" fill="#333" text-anchor="middle" font-weight="normal" >Y4.5</text>
<line x1="262.64" y1="568.90" x2="262.64" y2="571.50" stroke="#333" stroke-width="0.9"/>
<text x="262.64" y="580.60" font-size="6.6" fill="#333" text-anchor="middle" font-weight="normal" >Y5</text>
<line x1="279.42" y1="568.90" x2="279.42" y2="571.50" stroke="#333" stroke-width="0.9"/>
<text x="279.42" y="580.60" font-size="6.6" fill="#333" text-anchor="middle" font-weight="normal" >Y6</text>
<text x="162.40" y="593.10" font-size="8.6" fill="#3a3a3a" text-anchor="middle" font-weight="normal" textLength="32.2" lengthAdjust="spacingAndGlyphs" >Time point</text>
<text x="162.00" y="603.40" font-size="6.8" fill="#3a3a3a" text-anchor="middle" font-weight="normal" textLength="23.7" lengthAdjust="spacingAndGlyphs" >Cell type</text>
<line x1="74.30" y1="609.90" x2="81.10" y2="609.90" stroke="#42a6de" stroke-width="0.9"/>
<circle cx="77.70" cy="609.9" r="2.0" fill="#42a6de"/>
<text x="84.40" y="612.20" font-size="6.4" fill="#333" text-anchor="start" font-weight="normal" textLength="16.4" lengthAdjust="spacingAndGlyphs" >B cells</text>
<line x1="107.00" y1="609.90" x2="113.80" y2="609.90" stroke="#1c5e4c" stroke-width="0.9"/>
<circle cx="110.40" cy="609.9" r="2.0" fill="#1c5e4c"/>
<text x="116.70" y="612.20" font-size="6.4" fill="#333" text-anchor="start" font-weight="normal" textLength="31.2" lengthAdjust="spacingAndGlyphs" >Neutrophils</text>
<line x1="154.60" y1="609.90" x2="161.40" y2="609.90" stroke="#d9872c" stroke-width="0.9"/>
<circle cx="158.00" cy="609.9" r="2.0" fill="#d9872c"/>
<text x="163.30" y="612.20" font-size="6.4" fill="#333" text-anchor="start" font-weight="normal" textLength="20.5" lengthAdjust="spacingAndGlyphs" >NK cells</text>
<line x1="190.00" y1="609.90" x2="196.80" y2="609.90" stroke="#9d92d2" stroke-width="0.9"/>
<circle cx="193.40" cy="609.9" r="2.0" fill="#9d92d2"/>
<text x="199.70" y="612.20" font-size="6.4" fill="#333" text-anchor="start" font-weight="normal" textLength="17.6" lengthAdjust="spacingAndGlyphs" >PBMC</text>
<line x1="222.40" y1="609.90" x2="229.20" y2="609.90" stroke="#5a3212" stroke-width="0.9"/>
<circle cx="225.80" cy="609.9" r="2.0" fill="#5a3212"/>
<text x="232.50" y="612.20" font-size="6.4" fill="#333" text-anchor="start" font-weight="normal" textLength="16" lengthAdjust="spacingAndGlyphs" >T cells</text>
<text x="305.20" y="362.90" font-size="11.4" fill="#111" text-anchor="start" font-weight="bold" stroke="#111" stroke-width="0.45">C</text>
<rect x="345.30" y="481.42" width="6.82" height="6.82" fill="#44145e" shape-rendering="crispEdges"/>
<rect x="352.12" y="481.42" width="6.82" height="6.82" fill="#f5e01e" shape-rendering="crispEdges"/>
<rect x="379.40" y="481.42" width="6.82" height="6.82" fill="#f5e01e" shape-rendering="crispEdges"/>
<rect x="413.50" y="481.42" width="6.82" height="6.82" fill="#f5e01e" shape-rendering="crispEdges"/>
<rect x="433.96" y="481.42" width="6.82" height="6.82" fill="#f5e01e" shape-rendering="crispEdges"/>
<rect x="345.30" y="474.60" width="6.82" height="6.82" fill="#f5e01e" shape-rendering="crispEdges"/>
<rect x="352.12" y="474.60" width="6.82" height="6.82" fill="#44145e" shape-rendering="crispEdges"/>
<rect x="379.40" y="474.60" width="6.82" height="6.82" fill="#23a884" shape-rendering="crispEdges"/>
<rect x="413.50" y="474.60" width="6.82" height="6.82" fill="#2a7a8a" shape-rendering="crispEdges"/>
<rect x="433.96" y="474.60" width="6.82" height="6.82" fill="#2aa07a" shape-rendering="crispEdges"/>
<rect x="358.94" y="467.78" width="6.82" height="6.82" fill="#44145e" shape-rendering="crispEdges"/>
<rect x="386.22" y="467.78" width="6.82" height="6.82" fill="#52bb6a" shape-rendering="crispEdges"/>
<rect x="393.04" y="467.78" width="6.82" height="6.82" fill="#52bb6a" shape-rendering="crispEdges"/>
<rect x="420.32" y="467.78" width="6.82" height="6.82" fill="#3cb070" shape-rendering="crispEdges"/>
<rect x="440.78" y="467.78" width="6.82" height="6.82" fill="#3cb070" shape-rendering="crispEdges"/>
<rect x="365.76" y="460.96" width="6.82" height="6.82" fill="#44145e" shape-rendering="crispEdges"/>
<rect x="372.58" y="460.96" width="6.82" height="6.82" fill="#44145e" shape-rendering="crispEdges"/>
<rect x="406.68" y="460.96" width="6.82" height="6.82" fill="#44145e" shape-rendering="crispEdges"/>
<rect x="365.76" y="454.14" width="6.82" height="6.82" fill="#44145e" shape-rendering="crispEdges"/>
<rect x="372.58" y="454.14" width="6.82" height="6.82" fill="#44145e" shape-rendering="crispEdges"/>
<rect x="406.68" y="454.14" width="6.82" height="6.82" fill="#44145e" shape-rendering="crispEdges"/>
<rect x="345.30" y="447.32" width="6.82" height="6.82" fill="#f5e01e" shape-rendering="crispEdges"/>
<rect x="352.12" y="447.32" width="6.82" height="6.82" fill="#6abf50" shape-rendering="crispEdges"/>
<rect x="379.40" y="447.32" width="6.82" height="6.82" fill="#44145e" shape-rendering="crispEdges"/>
<rect x="413.50" y="447.32" width="6.82" height="6.82" fill="#44145e" shape-rendering="crispEdges"/>
<rect x="433.96" y="447.32" width="6.82" height="6.82" fill="#44145e" shape-rendering="crispEdges"/>
<rect x="358.94" y="440.50" width="6.82" height="6.82" fill="#3fb47a" shape-rendering="crispEdges"/>
<rect x="386.22" y="440.50" width="6.82" height="6.82" fill="#44145e" shape-rendering="crispEdges"/>
<rect x="393.04" y="440.50" width="6.82" height="6.82" fill="#20a386" shape-rendering="crispEdges"/>
<rect x="420.32" y="440.50" width="6.82" height="6.82" fill="#2a8a8a" shape-rendering="crispEdges"/>
<rect x="440.78" y="440.50" width="6.82" height="6.82" fill="#2a8a8a" shape-rendering="crispEdges"/>
<rect x="358.94" y="433.68" width="6.82" height="6.82" fill="#3fb47a" shape-rendering="crispEdges"/>
<rect x="386.22" y="433.68" width="6.82" height="6.82" fill="#20a386" shape-rendering="crispEdges"/>
<rect x="393.04" y="433.68" width="6.82" height="6.82" fill="#44145e" shape-rendering="crispEdges"/>
<rect x="420.32" y="433.68" width="6.82" height="6.82" fill="#44145e" shape-rendering="crispEdges"/>
<rect x="440.78" y="433.68" width="6.82" height="6.82" fill="#44145e" shape-rendering="crispEdges"/>
<rect x="399.86" y="426.86" width="6.82" height="6.82" fill="#44145e" shape-rendering="crispEdges"/>
<rect x="427.14" y="426.86" width="6.82" height="6.82" fill="#44145e" shape-rendering="crispEdges"/>
<rect x="447.60" y="426.86" width="6.82" height="6.82" fill="#44145e" shape-rendering="crispEdges"/>
<rect x="454.42" y="426.86" width="6.82" height="6.82" fill="#44145e" shape-rendering="crispEdges"/>
<rect x="365.76" y="420.04" width="6.82" height="6.82" fill="#3e3d8b" shape-rendering="crispEdges"/>
<rect x="372.58" y="420.04" width="6.82" height="6.82" fill="#3e3d8b" shape-rendering="crispEdges"/>
<rect x="406.68" y="420.04" width="6.82" height="6.82" fill="#44145e" shape-rendering="crispEdges"/>
<rect x="345.30" y="413.22" width="6.82" height="6.82" fill="#f5e01e" shape-rendering="crispEdges"/>
<rect x="352.12" y="413.22" width="6.82" height="6.82" fill="#6dbb4f" shape-rendering="crispEdges"/>
<rect x="379.40" y="413.22" width="6.82" height="6.82" fill="#44145e" shape-rendering="crispEdges"/>
<rect x="413.50" y="413.22" width="6.82" height="6.82" fill="#44145e" shape-rendering="crispEdges"/>
<rect x="433.96" y="413.22" width="6.82" height="6.82" fill="#44145e" shape-rendering="crispEdges"/>
<rect x="358.94" y="406.40" width="6.82" height="6.82" fill="#5ab95c" shape-rendering="crispEdges"/>
<rect x="386.22" y="406.40" width="6.82" height="6.82" fill="#21a386" shape-rendering="crispEdges"/>
<rect x="393.04" y="406.40" width="6.82" height="6.82" fill="#482a7a" shape-rendering="crispEdges"/>
<rect x="420.32" y="406.40" width="6.82" height="6.82" fill="#44145e" shape-rendering="crispEdges"/>
<rect x="440.78" y="406.40" width="6.82" height="6.82" fill="#44145e" shape-rendering="crispEdges"/>
<rect x="399.86" y="399.58" width="6.82" height="6.82" fill="#44145e" shape-rendering="crispEdges"/>
<rect x="427.14" y="399.58" width="6.82" height="6.82" fill="#44145e" shape-rendering="crispEdges"/>
<rect x="447.60" y="399.58" width="6.82" height="6.82" fill="#44145e" shape-rendering="crispEdges"/>
<rect x="454.42" y="399.58" width="6.82" height="6.82" fill="#44145e" shape-rendering="crispEdges"/>
<rect x="345.30" y="392.76" width="6.82" height="6.82" fill="#f5e01e" shape-rendering="crispEdges"/>
<rect x="352.12" y="392.76" width="6.82" height="6.82" fill="#8ac43f" shape-rendering="crispEdges"/>
<rect x="379.40" y="392.76" width="6.82" height="6.82" fill="#44145e" shape-rendering="crispEdges"/>
<rect x="413.50" y="392.76" width="6.82" height="6.82" fill="#44145e" shape-rendering="crispEdges"/>
<rect x="433.96" y="392.76" width="6.82" height="6.82" fill="#44145e" shape-rendering="crispEdges"/>
<rect x="358.94" y="385.94" width="6.82" height="6.82" fill="#74c04a" shape-rendering="crispEdges"/>
<rect x="386.22" y="385.94" width="6.82" height="6.82" fill="#4cb577" shape-rendering="crispEdges"/>
<rect x="393.04" y="385.94" width="6.82" height="6.82" fill="#3e5b9a" shape-rendering="crispEdges"/>
<rect x="420.32" y="385.94" width="6.82" height="6.82" fill="#414a8e" shape-rendering="crispEdges"/>
<rect x="440.78" y="385.94" width="6.82" height="6.82" fill="#44145e" shape-rendering="crispEdges"/>
<rect x="399.86" y="379.12" width="6.82" height="6.82" fill="#44145e" shape-rendering="crispEdges"/>
<rect x="427.14" y="379.12" width="6.82" height="6.82" fill="#44145e" shape-rendering="crispEdges"/>
<rect x="447.60" y="379.12" width="6.82" height="6.82" fill="#44145e" shape-rendering="crispEdges"/>
<rect x="454.42" y="379.12" width="6.82" height="6.82" fill="#44145e" shape-rendering="crispEdges"/>
<rect x="399.86" y="372.30" width="6.82" height="6.82" fill="#44145e" shape-rendering="crispEdges"/>
<rect x="427.14" y="372.30" width="6.82" height="6.82" fill="#44145e" shape-rendering="crispEdges"/>
<rect x="447.60" y="372.30" width="6.82" height="6.82" fill="#44145e" shape-rendering="crispEdges"/>
<rect x="454.42" y="372.30" width="6.82" height="6.82" fill="#44145e" shape-rendering="crispEdges"/>
<line x1="345.00" y1="371.50" x2="345.00" y2="488.54" stroke="#2a2a2a" stroke-width="1.1"/>
<line x1="344.50" y1="488.74" x2="462.24" y2="488.74" stroke="#2a2a2a" stroke-width="1.1"/>
<line x1="342.30" y1="484.83" x2="345.00" y2="484.83" stroke="#2a2a2a" stroke-width="1.0"/>
<text x="339.60" y="487.13" font-size="6.6" fill="#74b468" text-anchor="end" font-weight="normal" textLength="33.25" lengthAdjust="spacingAndGlyphs" >1 MONTHS</text>
<line x1="342.30" y1="478.01" x2="345.00" y2="478.01" stroke="#2a2a2a" stroke-width="1.0"/>
<text x="339.60" y="480.31" font-size="6.6" fill="#74b468" text-anchor="end" font-weight="normal" textLength="33.25" lengthAdjust="spacingAndGlyphs" >3 MONTHS</text>
<line x1="342.30" y1="471.19" x2="345.00" y2="471.19" stroke="#2a2a2a" stroke-width="1.0"/>
<text x="339.60" y="473.49" font-size="6.6" fill="#f4b458" text-anchor="end" font-weight="normal" textLength="33.25" lengthAdjust="spacingAndGlyphs" >6 MONTHS</text>
<line x1="342.30" y1="464.37" x2="345.00" y2="464.37" stroke="#2a2a2a" stroke-width="1.0"/>
<text x="339.60" y="466.67" font-size="6.6" fill="#d23e44" text-anchor="end" font-weight="normal" textLength="33.25" lengthAdjust="spacingAndGlyphs" >9 MONTHS</text>
<line x1="342.30" y1="457.55" x2="345.00" y2="457.55" stroke="#2a2a2a" stroke-width="1.0"/>
<text x="339.60" y="459.85" font-size="6.6" fill="#d23e44" text-anchor="end" font-weight="normal" textLength="25.96" lengthAdjust="spacingAndGlyphs" >1 YEARS</text>
<line x1="342.30" y1="450.73" x2="345.00" y2="450.73" stroke="#2a2a2a" stroke-width="1.0"/>
<text x="339.60" y="453.03" font-size="6.6" fill="#74b468" text-anchor="end" font-weight="normal" textLength="25.96" lengthAdjust="spacingAndGlyphs" >1 YEARS</text>
<line x1="342.30" y1="443.91" x2="345.00" y2="443.91" stroke="#2a2a2a" stroke-width="1.0"/>
<text x="339.60" y="446.21" font-size="6.6" fill="#f4b458" text-anchor="end" font-weight="normal" textLength="25.96" lengthAdjust="spacingAndGlyphs" >1 YEARS</text>
<line x1="342.30" y1="437.09" x2="345.00" y2="437.09" stroke="#2a2a2a" stroke-width="1.0"/>
<text x="339.60" y="439.39" font-size="6.6" fill="#f4b458" text-anchor="end" font-weight="normal" textLength="31.1" lengthAdjust="spacingAndGlyphs" >1.5 YEARS</text>
<line x1="342.30" y1="430.27" x2="345.00" y2="430.27" stroke="#2a2a2a" stroke-width="1.0"/>
<text x="339.60" y="432.57" font-size="6.6" fill="#42407e" text-anchor="end" font-weight="normal" textLength="25.96" lengthAdjust="spacingAndGlyphs" >2 YEARS</text>
<line x1="342.30" y1="423.45" x2="345.00" y2="423.45" stroke="#2a2a2a" stroke-width="1.0"/>
<text x="339.60" y="425.75" font-size="6.6" fill="#d23e44" text-anchor="end" font-weight="normal" textLength="25.96" lengthAdjust="spacingAndGlyphs" >2 YEARS</text>
<line x1="342.30" y1="416.63" x2="345.00" y2="416.63" stroke="#2a2a2a" stroke-width="1.0"/>
<text x="339.60" y="418.93" font-size="6.6" fill="#74b468" text-anchor="end" font-weight="normal" textLength="25.96" lengthAdjust="spacingAndGlyphs" >2 YEARS</text>
<line x1="342.30" y1="409.81" x2="345.00" y2="409.81" stroke="#2a2a2a" stroke-width="1.0"/>
<text x="339.60" y="412.11" font-size="6.6" fill="#f4b458" text-anchor="end" font-weight="normal" textLength="25.96" lengthAdjust="spacingAndGlyphs" >2 YEARS</text>
<line x1="342.30" y1="402.99" x2="345.00" y2="402.99" stroke="#2a2a2a" stroke-width="1.0"/>
<text x="339.60" y="405.29" font-size="6.6" fill="#42407e" text-anchor="end" font-weight="normal" textLength="25.96" lengthAdjust="spacingAndGlyphs" >3 YEARS</text>
<line x1="342.30" y1="396.17" x2="345.00" y2="396.17" stroke="#2a2a2a" stroke-width="1.0"/>
<text x="339.60" y="398.47" font-size="6.6" fill="#74b468" text-anchor="end" font-weight="normal" textLength="25.96" lengthAdjust="spacingAndGlyphs" >3 YEARS</text>
<line x1="342.30" y1="389.35" x2="345.00" y2="389.35" stroke="#2a2a2a" stroke-width="1.0"/>
<text x="339.60" y="391.65" font-size="6.6" fill="#f4b458" text-anchor="end" font-weight="normal" textLength="25.96" lengthAdjust="spacingAndGlyphs" >3 YEARS</text>
<line x1="342.30" y1="382.53" x2="345.00" y2="382.53" stroke="#2a2a2a" stroke-width="1.0"/>
<text x="339.60" y="384.83" font-size="6.6" fill="#42407e" text-anchor="end" font-weight="normal" textLength="25.96" lengthAdjust="spacingAndGlyphs" >4 YEARS</text>
<line x1="342.30" y1="375.71" x2="345.00" y2="375.71" stroke="#2a2a2a" stroke-width="1.0"/>
<text x="339.60" y="378.01" font-size="6.6" fill="#42407e" text-anchor="end" font-weight="normal" textLength="25.96" lengthAdjust="spacingAndGlyphs" >5 YEARS</text>
<line x1="348.71" y1="488.74" x2="348.71" y2="491.24" stroke="#2a2a2a" stroke-width="1.0"/>
<text transform="translate(351.01,494.74) rotate(-90)" font-size="6.6" fill="#74b468" text-anchor="end" textLength="33.25" lengthAdjust="spacingAndGlyphs">1 MONTHS</text>
<line x1="355.53" y1="488.74" x2="355.53" y2="491.24" stroke="#2a2a2a" stroke-width="1.0"/>
<text transform="translate(357.83,494.74) rotate(-90)" font-size="6.6" fill="#74b468" text-anchor="end" textLength="33.25" lengthAdjust="spacingAndGlyphs">3 MONTHS</text>
<line x1="362.35" y1="488.74" x2="362.35" y2="491.24" stroke="#2a2a2a" stroke-width="1.0"/>
<text transform="translate(364.65,494.74) rotate(-90)" font-size="6.6" fill="#f4b458" text-anchor="end" textLength="33.25" lengthAdjust="spacingAndGlyphs">6 MONTHS</text>
<line x1="369.17" y1="488.74" x2="369.17" y2="491.24" stroke="#2a2a2a" stroke-width="1.0"/>
<text transform="translate(371.47,494.74) rotate(-90)" font-size="6.6" fill="#d23e44" text-anchor="end" textLength="33.25" lengthAdjust="spacingAndGlyphs">9 MONTHS</text>
<line x1="375.99" y1="488.74" x2="375.99" y2="491.24" stroke="#2a2a2a" stroke-width="1.0"/>
<text transform="translate(378.29,494.74) rotate(-90)" font-size="6.6" fill="#d23e44" text-anchor="end" textLength="25.96" lengthAdjust="spacingAndGlyphs">1 YEARS</text>
<line x1="382.81" y1="488.74" x2="382.81" y2="491.24" stroke="#2a2a2a" stroke-width="1.0"/>
<text transform="translate(385.11,494.74) rotate(-90)" font-size="6.6" fill="#74b468" text-anchor="end" textLength="25.96" lengthAdjust="spacingAndGlyphs">1 YEARS</text>
<line x1="389.63" y1="488.74" x2="389.63" y2="491.24" stroke="#2a2a2a" stroke-width="1.0"/>
<text transform="translate(391.93,494.74) rotate(-90)" font-size="6.6" fill="#f4b458" text-anchor="end" textLength="25.96" lengthAdjust="spacingAndGlyphs">1 YEARS</text>
<line x1="396.45" y1="488.74" x2="396.45" y2="491.24" stroke="#2a2a2a" stroke-width="1.0"/>
<text transform="translate(398.75,494.74) rotate(-90)" font-size="6.6" fill="#f4b458" text-anchor="end" textLength="31.10" lengthAdjust="spacingAndGlyphs">1.5 YEARS</text>
<line x1="403.27" y1="488.74" x2="403.27" y2="491.24" stroke="#2a2a2a" stroke-width="1.0"/>
<text transform="translate(405.57,494.74) rotate(-90)" font-size="6.6" fill="#42407e" text-anchor="end" textLength="25.96" lengthAdjust="spacingAndGlyphs">2 YEARS</text>
<line x1="410.09" y1="488.74" x2="410.09" y2="491.24" stroke="#2a2a2a" stroke-width="1.0"/>
<text transform="translate(412.39,494.74) rotate(-90)" font-size="6.6" fill="#d23e44" text-anchor="end" textLength="25.96" lengthAdjust="spacingAndGlyphs">2 YEARS</text>
<line x1="416.91" y1="488.74" x2="416.91" y2="491.24" stroke="#2a2a2a" stroke-width="1.0"/>
<text transform="translate(419.21,494.74) rotate(-90)" font-size="6.6" fill="#74b468" text-anchor="end" textLength="25.96" lengthAdjust="spacingAndGlyphs">2 YEARS</text>
<line x1="423.73" y1="488.74" x2="423.73" y2="491.24" stroke="#2a2a2a" stroke-width="1.0"/>
<text transform="translate(426.03,494.74) rotate(-90)" font-size="6.6" fill="#f4b458" text-anchor="end" textLength="25.96" lengthAdjust="spacingAndGlyphs">2 YEARS</text>
<line x1="430.55" y1="488.74" x2="430.55" y2="491.24" stroke="#2a2a2a" stroke-width="1.0"/>
<text transform="translate(432.85,494.74) rotate(-90)" font-size="6.6" fill="#42407e" text-anchor="end" textLength="25.96" lengthAdjust="spacingAndGlyphs">3 YEARS</text>
<line x1="437.37" y1="488.74" x2="437.37" y2="491.24" stroke="#2a2a2a" stroke-width="1.0"/>
<text transform="translate(439.67,494.74) rotate(-90)" font-size="6.6" fill="#74b468" text-anchor="end" textLength="25.96" lengthAdjust="spacingAndGlyphs">3 YEARS</text>
<line x1="444.19" y1="488.74" x2="444.19" y2="491.24" stroke="#2a2a2a" stroke-width="1.0"/>
<text transform="translate(446.49,494.74) rotate(-90)" font-size="6.6" fill="#f4b458" text-anchor="end" textLength="25.96" lengthAdjust="spacingAndGlyphs">3 YEARS</text>
<line x1="451.01" y1="488.74" x2="451.01" y2="491.24" stroke="#2a2a2a" stroke-width="1.0"/>
<text transform="translate(453.31,494.74) rotate(-90)" font-size="6.6" fill="#42407e" text-anchor="end" textLength="25.96" lengthAdjust="spacingAndGlyphs">4 YEARS</text>
<line x1="457.83" y1="488.74" x2="457.83" y2="491.24" stroke="#2a2a2a" stroke-width="1.0"/>
<text transform="translate(460.13,494.74) rotate(-90)" font-size="6.6" fill="#42407e" text-anchor="end" textLength="25.96" lengthAdjust="spacingAndGlyphs">5 YEARS</text>
<text x="472.10" y="370.90" font-size="6.4" fill="#333" text-anchor="start" font-weight="normal" textLength="32.5" lengthAdjust="spacingAndGlyphs" >Shared Top</text>
<text x="472.10" y="378.80" font-size="6.4" fill="#333" text-anchor="start" font-weight="normal" textLength="31.5" lengthAdjust="spacingAndGlyphs" >100 Clones</text>
<defs><linearGradient id="vir" x1="0" y1="1" x2="0" y2="0"><stop offset="0" stop-color="#fde725"/><stop offset="0.125" stop-color="#b5de2b"/><stop offset="0.25" stop-color="#6ece58"/><stop offset="0.375" stop-color="#35b779"/><stop offset="0.5" stop-color="#1f9e89"/><stop offset="0.625" stop-color="#26828e"/><stop offset="0.75" stop-color="#31688e"/><stop offset="0.875" stop-color="#3e4989"/><stop offset="0.95" stop-color="#472d7b"/><stop offset="1" stop-color="#440f5e"/></linearGradient></defs>
<rect x="472.10" y="386.50" width="9.80" height="51.00" fill="url(#vir)" stroke="none" stroke-width="1" />
<text x="485.60" y="388.90" font-size="6.6" fill="#333" text-anchor="start" font-weight="normal" >100</text>
<text x="485.60" y="401.50" font-size="6.6" fill="#333" text-anchor="start" font-weight="normal" >75</text>
<text x="485.60" y="414.10" font-size="6.6" fill="#333" text-anchor="start" font-weight="normal" >50</text>
<text x="485.60" y="426.70" font-size="6.6" fill="#333" text-anchor="start" font-weight="normal" >25</text>
<text x="485.60" y="439.30" font-size="6.6" fill="#333" text-anchor="start" font-weight="normal" >0</text>
<text x="472.10" y="449.40" font-size="6.6" fill="#333" text-anchor="start" font-weight="normal" textLength="22.5" lengthAdjust="spacingAndGlyphs" >Subject</text>
<rect x="472.10" y="454.60" width="9.80" height="10.25" fill="#302b82" stroke="none" stroke-width="1" />
<text x="485.60" y="461.90" font-size="6.6" fill="#333" text-anchor="start" font-weight="normal" >Pt 1</text>
<rect x="472.10" y="464.80" width="9.80" height="10.25" fill="#e31a1c" stroke="none" stroke-width="1" />
<text x="485.60" y="472.10" font-size="6.6" fill="#333" text-anchor="start" font-weight="normal" >Pt 2</text>
<rect x="472.10" y="475.00" width="9.80" height="10.25" fill="#4dae3c" stroke="none" stroke-width="1" />
<text x="485.60" y="482.30" font-size="6.6" fill="#333" text-anchor="start" font-weight="normal" >Pt 3</text>
<rect x="472.10" y="485.20" width="9.80" height="10.25" fill="#fd9a1c" stroke="none" stroke-width="1" />
<text x="485.60" y="492.50" font-size="6.6" fill="#333" text-anchor="start" font-weight="normal" >Pt 4</text>
</svg></body></html>
